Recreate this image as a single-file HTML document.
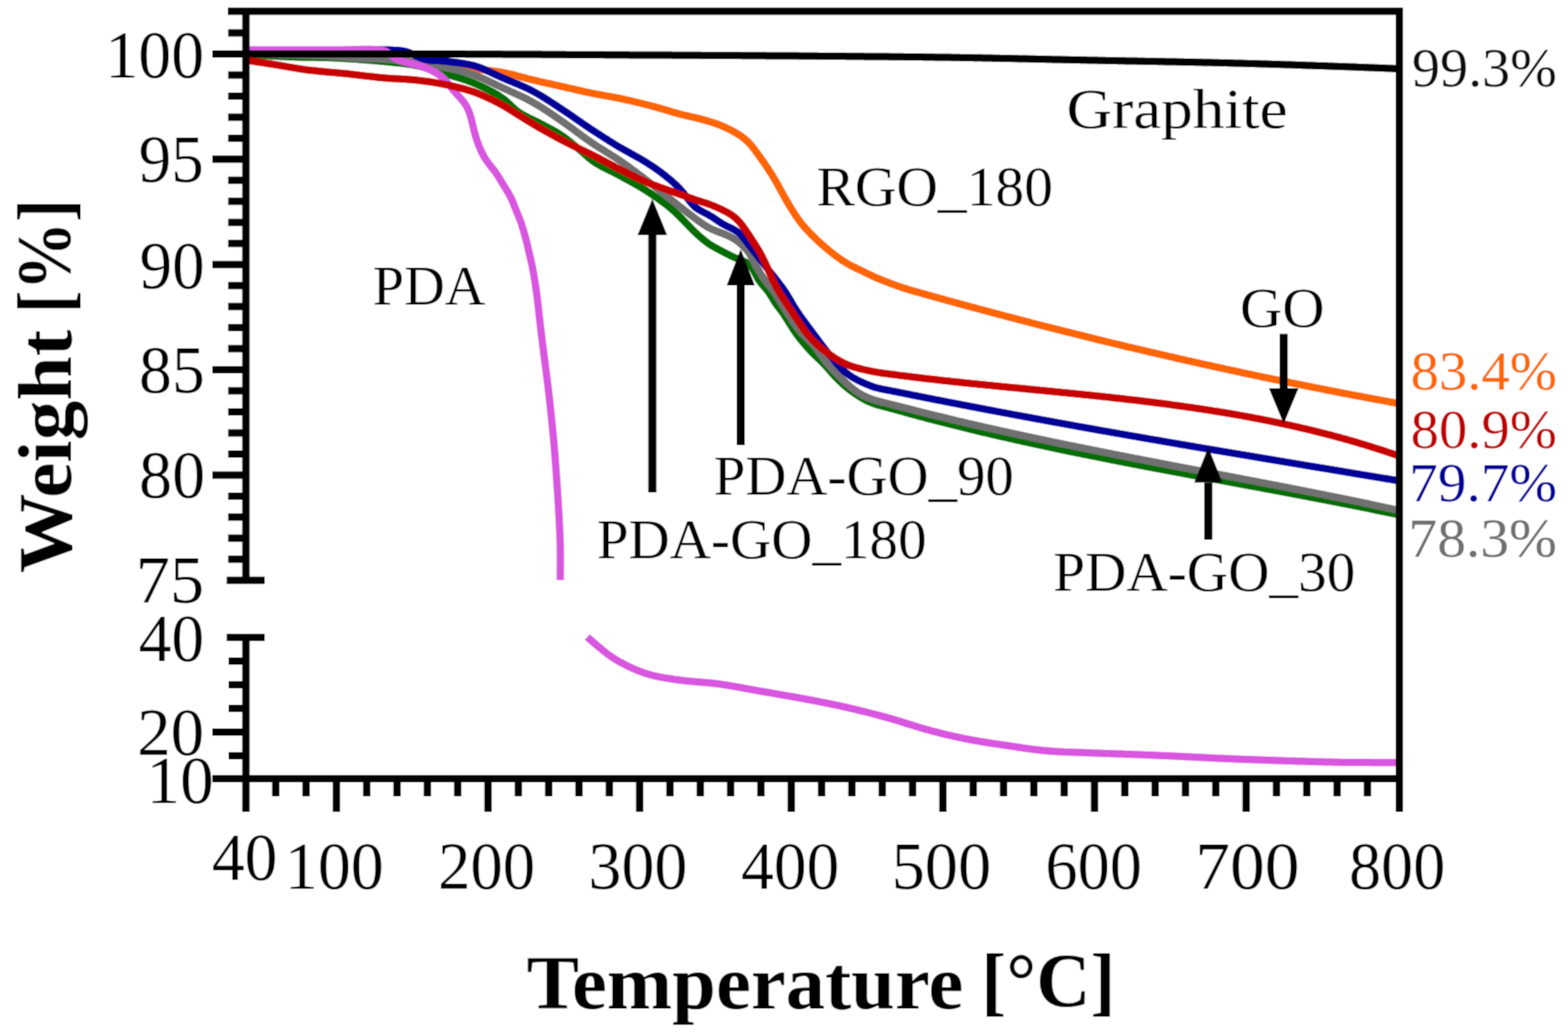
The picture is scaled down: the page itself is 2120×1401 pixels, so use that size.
<!DOCTYPE html>
<html><head><meta charset="utf-8"><title>TGA</title>
<style>html,body{margin:0;padding:0;background:#fff;}svg{display:block;}</style></head>
<body><svg width="2120" height="1401" viewBox="0 0 2120 1401">
<defs><filter id="soft" x="0" y="0" width="2120" height="1401" filterUnits="userSpaceOnUse" primitiveUnits="userSpaceOnUse"><feConvolveMatrix order="3" kernelMatrix="1 2 1 2 4 2 1 2 1" divisor="16" edgeMode="duplicate" preserveAlpha="false"/></filter></defs>
<rect width="2120" height="1401" fill="#fff"/>
<g filter="url(#soft)">
<rect width="2120" height="1401" fill="#fff"/>
<path d="M333.0,73.0 L335.0,73.1 L337.1,73.2 L339.1,73.2 L341.2,73.3 L343.2,73.4 L345.3,73.5 L347.3,73.5 L349.4,73.6 L351.5,73.7 L353.6,73.8 L355.6,73.9 L357.7,73.9 L359.8,74.0 L361.9,74.1 L364.0,74.2 L366.1,74.3 L368.2,74.3 L370.3,74.4 L372.4,74.5 L374.5,74.6 L376.6,74.7 L378.7,74.7 L380.8,74.8 L382.9,74.9 L385.0,75.0 L387.1,75.1 L389.2,75.1 L391.3,75.2 L393.4,75.3 L395.4,75.4 L397.5,75.5 L399.6,75.5 L401.6,75.6 L403.7,75.7 L405.7,75.8 L407.8,75.8 L409.8,75.9 L411.8,76.0 L413.9,76.1 L415.9,76.2 L417.9,76.2 L419.9,76.3 L421.8,76.4 L423.8,76.5 L425.8,76.5 L427.7,76.6 L429.6,76.7 L431.5,76.8 L433.5,76.8 L435.3,76.9 L437.2,77.0 L439.1,77.1 L440.9,77.1 L442.8,77.2 L444.6,77.3 L446.6,77.4 L448.5,77.4 L450.5,77.5 L452.5,77.6 L454.6,77.7 L456.7,77.8 L458.9,77.8 L461.1,77.9 L463.2,78.0 L465.4,78.1 L467.6,78.2 L469.7,78.3 L471.8,78.3 L473.9,78.4 L476.0,78.5 L478.1,78.6 L480.2,78.6 L482.2,78.7 L484.3,78.8 L486.3,78.9 L488.3,79.0 L490.3,79.0 L492.3,79.1 L494.2,79.2 L496.2,79.3 L498.1,79.4 L500.0,79.4 L501.9,79.5 L503.8,79.6 L505.6,79.7 L507.5,79.8 L509.3,79.9 L511.1,80.0 L512.9,80.1 L514.8,80.2 L516.6,80.3 L518.6,80.4 L520.5,80.5 L522.5,80.7 L524.5,80.8 L526.5,81.0 L528.5,81.1 L530.6,81.3 L532.6,81.4 L534.6,81.6 L536.5,81.7 L538.5,81.9 L540.4,82.1 L542.3,82.3 L544.2,82.4 L546.2,82.6 L548.1,82.8 L550.0,83.0 L552.0,83.2 L554.0,83.4 L555.9,83.6 L557.9,83.8 L559.9,84.0 L561.9,84.2 L563.9,84.4 L565.9,84.7 L567.9,84.9 L569.9,85.1 L572.0,85.4 L574.0,85.6 L576.1,85.9 L578.1,86.1 L580.2,86.4 L582.3,86.6 L584.4,86.9 L586.5,87.1 L588.5,87.4 L590.6,87.7 L592.6,87.9 L594.7,88.2 L596.7,88.4 L598.7,88.7 L600.6,88.9 L602.5,89.1 L604.5,89.4 L606.4,89.6 L608.4,89.8 L610.4,90.0 L612.3,90.2 L614.3,90.4 L616.3,90.6 L618.3,90.8 L620.3,91.0 L622.3,91.2 L624.2,91.4 L626.2,91.6 L628.1,91.8 L630.0,92.0 L632.0,92.2 L633.9,92.4 L635.9,92.6 L637.9,92.8 L639.8,93.0 L641.8,93.2 L643.8,93.4 L645.7,93.6 L647.7,93.8 L649.7,94.0 L651.6,94.2 L653.6,94.5 L655.6,94.7 L657.7,94.9 L659.7,95.1 L661.7,95.4 L663.8,95.6 L665.8,95.9 L667.8,96.1 L669.9,96.4 L671.9,96.7 L673.9,97.0 L676.0,97.4 L678.0,97.7 L680.0,98.1 L682.0,98.5 L684.0,98.9 L686.0,99.3 L688.0,99.8 L690.0,100.2 L692.0,100.7 L694.0,101.2 L696.0,101.7 L698.0,102.2 L700.0,102.8 L702.0,103.3 L704.0,103.8 L706.0,104.4 L708.0,104.9 L710.0,105.4 L712.0,106.0 L714.0,106.5 L716.0,107.0 L718.0,107.5 L720.0,108.0 L722.0,108.4 L724.0,108.9 L726.0,109.4 L728.0,109.9 L730.0,110.3 L732.0,110.8 L734.0,111.2 L736.0,111.7 L738.0,112.1 L740.0,112.6 L742.0,113.0 L744.0,113.4 L746.0,113.9 L748.0,114.3 L750.0,114.8 L752.0,115.2 L754.0,115.7 L756.0,116.1 L758.0,116.6 L760.0,117.0 L762.0,117.5 L764.0,117.9 L766.0,118.4 L768.0,118.8 L770.0,119.3 L772.0,119.7 L774.0,120.2 L776.0,120.7 L778.0,121.1 L780.0,121.6 L782.0,122.0 L784.0,122.5 L786.0,122.9 L788.0,123.4 L790.0,123.8 L792.0,124.3 L794.0,124.7 L796.0,125.1 L798.0,125.6 L800.0,126.0 L802.0,126.4 L804.0,126.8 L806.0,127.2 L808.0,127.5 L810.0,127.9 L812.0,128.3 L814.0,128.6 L816.0,129.0 L818.0,129.4 L820.0,129.7 L822.0,130.1 L824.0,130.4 L826.0,130.8 L828.0,131.2 L830.0,131.5 L832.0,131.9 L834.0,132.3 L836.0,132.7 L838.0,133.1 L840.0,133.5 L842.0,134.0 L844.0,134.4 L846.0,134.8 L848.0,135.3 L850.0,135.7 L852.0,136.2 L854.0,136.6 L856.0,137.1 L858.0,137.6 L860.0,138.0 L862.0,138.5 L864.0,139.0 L866.0,139.5 L868.0,140.0 L870.0,140.5 L872.0,141.0 L874.0,141.5 L876.0,142.0 L878.0,142.5 L880.0,143.0 L882.0,143.6 L884.1,144.1 L886.1,144.7 L888.1,145.3 L890.2,145.8 L892.2,146.4 L894.2,147.0 L896.3,147.6 L898.3,148.2 L900.3,148.8 L902.4,149.4 L904.4,150.0 L906.4,150.6 L908.4,151.2 L910.3,151.8 L912.3,152.3 L914.3,152.9 L916.2,153.4 L918.2,154.0 L920.2,154.5 L922.2,155.0 L924.2,155.5 L926.2,156.0 L928.2,156.5 L930.3,156.9 L932.3,157.4 L934.3,157.8 L936.3,158.3 L938.2,158.7 L940.2,159.2 L942.2,159.6 L944.1,160.1 L946.1,160.6 L948.0,161.1 L950.0,161.7 L952.0,162.2 L953.9,162.8 L955.9,163.3 L957.8,163.9 L959.8,164.5 L961.7,165.1 L963.7,165.7 L965.6,166.4 L967.5,167.0 L969.4,167.7 L971.4,168.4 L973.3,169.2 L975.2,170.0 L977.1,170.8 L979.0,171.6 L980.9,172.4 L982.8,173.3 L984.7,174.2 L986.6,175.2 L988.5,176.1 L990.3,177.1 L992.2,178.1 L994.1,179.2 L995.9,180.3 L997.7,181.4 L999.5,182.5 L1001.3,183.6 L1003.0,184.9 L1004.7,186.1 L1006.3,187.4 L1007.9,188.8 L1009.5,190.2 L1011.0,191.6 L1012.5,193.1 L1013.9,194.6 L1015.3,196.2 L1016.7,197.9 L1018.0,199.5 L1019.3,201.2 L1020.6,202.9 L1021.9,204.7 L1023.2,206.4 L1024.4,208.1 L1025.6,209.8 L1026.9,211.5 L1028.1,213.2 L1029.3,214.9 L1030.5,216.5 L1031.6,218.2 L1032.8,219.8 L1033.9,221.5 L1035.1,223.2 L1036.2,224.9 L1037.4,226.6 L1038.5,228.3 L1039.6,230.0 L1040.7,231.8 L1041.9,233.5 L1043.0,235.3 L1044.1,237.0 L1045.1,238.8 L1046.2,240.6 L1047.3,242.4 L1048.3,244.2 L1049.4,246.0 L1050.4,247.8 L1051.4,249.6 L1052.4,251.4 L1053.4,253.3 L1054.4,255.1 L1055.4,257.0 L1056.4,258.8 L1057.4,260.7 L1058.5,262.5 L1059.5,264.4 L1060.5,266.2 L1061.5,268.0 L1062.5,269.9 L1063.6,271.7 L1064.6,273.4 L1065.7,275.2 L1066.7,277.0 L1067.8,278.7 L1068.8,280.5 L1069.9,282.2 L1071.0,283.9 L1072.1,285.7 L1073.2,287.4 L1074.3,289.1 L1075.4,290.8 L1076.5,292.4 L1077.7,294.1 L1078.8,295.8 L1080.0,297.4 L1081.2,299.1 L1082.5,300.7 L1083.7,302.3 L1085.0,303.9 L1086.3,305.4 L1087.6,307.0 L1089.0,308.5 L1090.3,310.0 L1091.7,311.5 L1093.1,313.0 L1094.5,314.5 L1096.0,316.0 L1097.4,317.5 L1098.9,319.0 L1100.4,320.4 L1101.9,321.9 L1103.4,323.3 L1104.9,324.8 L1106.4,326.2 L1107.9,327.6 L1109.5,328.9 L1111.0,330.3 L1112.5,331.7 L1114.1,333.0 L1115.6,334.4 L1117.2,335.7 L1118.8,337.0 L1120.3,338.3 L1121.9,339.6 L1123.5,340.9 L1125.1,342.2 L1126.8,343.5 L1128.4,344.7 L1130.0,346.0 L1131.6,347.2 L1133.2,348.3 L1134.9,349.5 L1136.5,350.6 L1138.1,351.7 L1139.8,352.9 L1141.5,353.9 L1143.2,355.0 L1145.0,356.1 L1146.8,357.1 L1148.7,358.1 L1150.5,359.1 L1152.4,360.1 L1154.3,361.0 L1156.2,362.0 L1158.1,362.9 L1159.9,363.7 L1161.7,364.6 L1163.4,365.4 L1165.2,366.2 L1166.9,367.1 L1168.6,367.9 L1170.3,368.7 L1172.0,369.6 L1173.7,370.4 L1175.4,371.3 L1177.1,372.1 L1178.9,372.9 L1180.6,373.7 L1182.3,374.5 L1184.0,375.3 L1185.8,376.0 L1187.6,376.8 L1189.4,377.5 L1191.3,378.3 L1193.2,379.0 L1195.2,379.8 L1197.3,380.6 L1199.4,381.4 L1201.5,382.2 L1203.6,383.1 L1205.7,383.9 L1207.8,384.6 L1209.9,385.4 L1212.0,386.2 L1214.0,386.9 L1216.1,387.6 L1218.1,388.3 L1220.1,389.0 L1222.1,389.6 L1224.1,390.3 L1226.1,390.9 L1228.1,391.5 L1230.0,392.1 L1232.0,392.7 L1234.0,393.2 L1235.9,393.8 L1237.9,394.3 L1239.9,394.9 L1241.9,395.4 L1243.9,396.0 L1245.8,396.5 L1247.8,397.1 L1249.8,397.7 L1251.8,398.2 L1253.8,398.8 L1255.7,399.3 L1257.7,399.9 L1259.7,400.4 L1261.6,401.0 L1263.6,401.5 L1265.6,402.1 L1267.6,402.6 L1269.7,403.2 L1271.7,403.8 L1273.7,404.3 L1275.8,404.9 L1277.8,405.5 L1279.8,406.0 L1281.9,406.6 L1283.9,407.1 L1285.9,407.7 L1288.0,408.2 L1290.0,408.8 L1292.0,409.3 L1294.0,409.9 L1296.0,410.4 L1298.0,411.0 L1300.0,411.5 L1302.0,412.1 L1304.0,412.6 L1306.0,413.1 L1308.0,413.7 L1310.0,414.2 L1312.0,414.8 L1314.0,415.3 L1316.0,415.8 L1318.0,416.4 L1320.0,416.9 L1322.0,417.5 L1324.0,418.0 L1326.0,418.5 L1328.0,419.1 L1330.0,419.6 L1332.0,420.1 L1334.0,420.7 L1336.0,421.2 L1338.0,421.7 L1340.0,422.3 L1342.0,422.8 L1344.0,423.3 L1346.0,423.9 L1348.0,424.4 L1350.0,424.9 L1352.0,425.5 L1354.0,426.0 L1356.0,426.5 L1358.0,427.0 L1360.0,427.6 L1362.0,428.1 L1364.0,428.6 L1366.0,429.1 L1368.0,429.7 L1370.0,430.2 L1372.0,430.7 L1374.0,431.2 L1376.0,431.8 L1378.0,432.3 L1380.0,432.8 L1382.0,433.3 L1384.0,433.9 L1386.0,434.4 L1388.0,434.9 L1390.0,435.4 L1392.0,435.9 L1394.0,436.5 L1396.0,437.0 L1398.0,437.5 L1400.0,438.0 L1402.0,438.5 L1404.0,439.1 L1406.0,439.6 L1408.0,440.1 L1410.0,440.6 L1412.0,441.1 L1414.0,441.6 L1416.0,442.1 L1418.0,442.6 L1420.0,443.1 L1422.0,443.7 L1424.0,444.2 L1426.0,444.7 L1428.0,445.2 L1430.0,445.7 L1432.0,446.2 L1434.0,446.7 L1436.0,447.2 L1438.0,447.7 L1440.0,448.2 L1442.0,448.7 L1444.0,449.2 L1446.0,449.7 L1448.0,450.2 L1450.0,450.7 L1452.0,451.2 L1454.0,451.7 L1456.0,452.2 L1458.0,452.7 L1460.0,453.2 L1462.0,453.7 L1464.0,454.2 L1466.0,454.7 L1468.0,455.2 L1470.0,455.7 L1472.0,456.2 L1474.0,456.7 L1476.0,457.2 L1478.0,457.7 L1480.0,458.1 L1482.0,458.6 L1484.0,459.1 L1486.0,459.6 L1488.0,460.1 L1490.0,460.6 L1492.0,461.1 L1494.0,461.6 L1496.0,462.1 L1498.0,462.5 L1500.0,463.0 L1502.0,463.5 L1504.0,464.0 L1506.0,464.5 L1508.0,465.0 L1510.0,465.4 L1512.0,465.9 L1514.0,466.4 L1516.0,466.9 L1518.0,467.3 L1520.0,467.8 L1522.0,468.3 L1524.0,468.8 L1526.0,469.3 L1528.0,469.7 L1530.0,470.2 L1532.0,470.7 L1534.0,471.1 L1536.0,471.6 L1538.0,472.1 L1540.0,472.5 L1542.0,473.0 L1544.0,473.5 L1546.0,473.9 L1548.0,474.4 L1550.0,474.9 L1552.0,475.3 L1554.0,475.8 L1556.0,476.3 L1558.0,476.7 L1560.0,477.2 L1562.0,477.7 L1564.0,478.1 L1566.0,478.6 L1568.0,479.0 L1570.0,479.5 L1572.0,480.0 L1574.0,480.4 L1576.0,480.9 L1578.0,481.4 L1580.0,481.8 L1582.0,482.3 L1584.0,482.7 L1586.0,483.2 L1588.0,483.7 L1590.0,484.1 L1592.0,484.6 L1594.0,485.1 L1596.0,485.5 L1598.0,486.0 L1600.0,486.4 L1602.0,486.9 L1604.0,487.3 L1606.0,487.8 L1608.0,488.2 L1610.0,488.7 L1612.0,489.1 L1614.0,489.6 L1616.0,490.0 L1618.0,490.5 L1620.0,490.9 L1622.0,491.4 L1624.0,491.8 L1626.0,492.3 L1628.0,492.7 L1630.0,493.1 L1632.0,493.6 L1634.0,494.0 L1636.0,494.4 L1638.0,494.9 L1640.0,495.3 L1642.0,495.8 L1644.0,496.2 L1646.0,496.6 L1648.0,497.1 L1650.0,497.5 L1652.0,497.9 L1654.0,498.4 L1656.0,498.8 L1658.0,499.3 L1660.0,499.7 L1662.0,500.1 L1664.0,500.6 L1666.0,501.0 L1668.0,501.4 L1670.0,501.9 L1672.0,502.3 L1674.0,502.8 L1676.0,503.2 L1678.0,503.6 L1680.0,504.1 L1682.0,504.5 L1684.0,504.9 L1686.0,505.3 L1688.0,505.8 L1690.0,506.2 L1692.0,506.6 L1694.0,507.0 L1696.0,507.5 L1698.0,507.9 L1700.0,508.3 L1702.0,508.7 L1704.0,509.1 L1706.0,509.6 L1708.0,510.0 L1710.0,510.4 L1712.0,510.8 L1714.0,511.2 L1716.0,511.6 L1718.0,512.0 L1720.0,512.4 L1722.0,512.9 L1724.0,513.3 L1726.0,513.7 L1728.0,514.1 L1730.0,514.5 L1732.0,514.9 L1734.0,515.3 L1736.0,515.7 L1738.0,516.1 L1740.0,516.5 L1742.0,516.9 L1744.0,517.4 L1746.0,517.8 L1748.0,518.2 L1750.0,518.6 L1752.0,519.0 L1754.0,519.4 L1756.0,519.8 L1758.0,520.2 L1760.0,520.6 L1762.0,521.0 L1764.0,521.4 L1766.0,521.8 L1768.0,522.2 L1770.0,522.6 L1772.0,523.0 L1774.0,523.4 L1776.0,523.8 L1778.0,524.2 L1780.0,524.6 L1782.0,525.0 L1784.0,525.4 L1786.0,525.8 L1788.0,526.2 L1790.0,526.6 L1792.0,527.0 L1794.0,527.4 L1796.0,527.8 L1798.0,528.2 L1800.0,528.5 L1802.0,528.9 L1804.0,529.3 L1806.0,529.7 L1808.0,530.1 L1810.0,530.5 L1812.0,530.9 L1814.0,531.3 L1816.0,531.7 L1818.0,532.0 L1820.0,532.4 L1822.0,532.8 L1824.0,533.2 L1826.0,533.6 L1828.0,533.9 L1830.0,534.3 L1832.0,534.7 L1834.0,535.1 L1836.0,535.5 L1838.0,535.8 L1840.0,536.2 L1842.0,536.6 L1844.0,537.0 L1846.0,537.3 L1848.0,537.7 L1850.0,538.1 L1852.0,538.5 L1854.0,538.8 L1856.0,539.2 L1858.0,539.6 L1860.0,540.0 L1862.0,540.3 L1864.0,540.7 L1866.0,541.1 L1868.0,541.4 L1870.0,541.8 L1872.0,542.2 L1874.0,542.5 L1876.0,542.9 L1878.0,543.3 L1880.0,543.7 L1882.0,544.0 L1884.0,544.4 L1886.0,544.8 L1888.0,545.1 L1890.0,545.5" fill="none" stroke="#ff6600" stroke-width="10" stroke-linejoin="round" stroke-linecap="butt"/>
<path d="M333.0,74.0 L335.0,74.1 L337.1,74.2 L339.2,74.3 L341.2,74.4 L343.3,74.5 L345.4,74.6 L347.5,74.7 L349.6,74.8 L351.7,74.9 L353.8,75.0 L355.9,75.2 L358.0,75.3 L360.1,75.4 L362.2,75.5 L364.3,75.6 L366.4,75.7 L368.4,75.8 L370.5,75.9 L372.6,76.0 L374.6,76.1 L376.7,76.2 L378.7,76.3 L380.7,76.4 L382.7,76.5 L384.7,76.6 L386.7,76.7 L388.7,76.8 L390.6,76.8 L392.5,76.9 L394.4,77.0 L396.4,77.1 L398.4,77.1 L400.4,77.2 L402.5,77.3 L404.5,77.3 L406.6,77.4 L408.7,77.4 L410.9,77.5 L413.0,77.5 L415.1,77.5 L417.2,77.5 L419.2,77.6 L421.2,77.6 L423.3,77.6 L425.3,77.6 L427.3,77.7 L429.2,77.7 L431.2,77.7 L433.2,77.8 L435.1,77.8 L437.1,77.8 L439.1,77.9 L441.1,78.0 L443.1,78.0 L445.2,78.1 L447.2,78.2 L449.2,78.3 L451.3,78.3 L453.3,78.4 L455.3,78.5 L457.4,78.6 L459.4,78.7 L461.4,78.8 L463.4,79.0 L465.4,79.1 L467.5,79.2 L469.5,79.3 L471.6,79.5 L473.6,79.6 L475.7,79.7 L477.7,79.9 L479.8,80.0 L481.8,80.1 L483.8,80.3 L485.8,80.4 L487.8,80.6 L489.8,80.7 L491.8,80.9 L493.8,81.0 L495.9,81.2 L497.9,81.3 L500.0,81.5 L502.0,81.6 L504.1,81.8 L506.1,82.0 L508.2,82.2 L510.3,82.3 L512.3,82.5 L514.3,82.7 L516.3,82.9 L518.3,83.1 L520.3,83.2 L522.3,83.4 L524.3,83.6 L526.3,83.8 L528.3,84.0 L530.3,84.2 L532.4,84.4 L534.5,84.7 L536.5,84.9 L538.6,85.1 L540.7,85.3 L542.7,85.5 L544.8,85.8 L546.8,86.0 L548.8,86.2 L550.8,86.5 L552.9,86.8 L554.9,87.1 L556.9,87.4 L558.9,87.8 L560.9,88.2 L562.9,88.6 L564.9,89.0 L566.8,89.4 L568.8,89.9 L570.7,90.4 L572.7,90.9 L574.6,91.5 L576.5,92.0 L578.5,92.6 L580.4,93.2 L582.4,93.8 L584.3,94.4 L586.3,95.0 L588.2,95.6 L590.2,96.2 L592.1,96.8 L594.1,97.4 L596.1,98.1 L598.0,98.7 L600.0,99.3 L602.0,99.9 L604.0,100.5 L606.0,101.0 L608.0,101.6 L610.0,102.2 L612.0,102.8 L614.0,103.4 L616.0,103.9 L618.0,104.5 L620.0,105.1 L622.0,105.7 L624.0,106.4 L626.0,107.0 L628.0,107.7 L630.0,108.3 L632.0,109.0 L634.0,109.8 L636.0,110.5 L638.0,111.3 L639.9,112.0 L641.8,112.8 L643.8,113.7 L645.7,114.5 L647.6,115.4 L649.5,116.2 L651.5,117.1 L653.4,118.1 L655.3,119.0 L657.2,119.9 L659.1,120.9 L661.0,121.9 L662.9,122.9 L664.8,123.9 L666.6,124.9 L668.4,125.9 L670.2,126.9 L671.9,127.9 L673.6,128.9 L675.2,130.0 L676.9,131.1 L678.6,132.2 L680.2,133.4 L681.8,134.6 L683.3,135.9 L684.9,137.2 L686.4,138.6 L687.9,140.0 L689.4,141.4 L690.8,142.8 L692.3,144.2 L693.8,145.6 L695.3,146.9 L696.8,148.2 L698.3,149.4 L699.9,150.6 L701.6,151.8 L703.2,152.9 L704.9,154.0 L706.7,155.0 L708.4,155.9 L710.2,156.9 L712.0,157.8 L713.9,158.8 L715.7,159.7 L717.6,160.6 L719.5,161.5 L721.3,162.4 L723.2,163.3 L725.0,164.2 L726.9,165.1 L728.7,166.0 L730.5,167.0 L732.4,167.9 L734.2,168.9 L736.1,169.8 L737.9,170.8 L739.8,171.8 L741.7,172.8 L743.6,173.8 L745.4,174.9 L747.3,175.9 L749.1,176.9 L750.9,178.0 L752.8,179.0 L754.6,180.1 L756.3,181.2 L758.1,182.4 L759.9,183.6 L761.6,184.8 L763.3,186.0 L765.0,187.3 L766.7,188.5 L768.4,189.9 L770.1,191.2 L771.8,192.5 L773.4,193.9 L775.0,195.3 L776.7,196.6 L778.3,198.0 L779.9,199.3 L781.4,200.6 L783.0,202.0 L784.5,203.3 L786.1,204.6 L787.6,206.0 L789.1,207.3 L790.6,208.6 L792.1,209.9 L793.6,211.2 L795.1,212.6 L796.6,213.9 L798.1,215.1 L799.7,216.3 L801.2,217.5 L802.8,218.6 L804.4,219.7 L806.1,220.8 L807.7,221.8 L809.4,222.8 L811.1,223.8 L812.8,224.7 L814.6,225.6 L816.4,226.6 L818.2,227.5 L820.1,228.4 L822.0,229.4 L823.8,230.3 L825.7,231.2 L827.6,232.2 L829.5,233.1 L831.4,234.1 L833.2,235.0 L835.1,236.0 L836.9,237.0 L838.7,237.9 L840.5,238.9 L842.3,239.9 L844.0,240.8 L845.8,241.8 L847.6,242.7 L849.3,243.7 L851.1,244.7 L852.9,245.7 L854.7,246.6 L856.5,247.6 L858.2,248.6 L860.0,249.6 L861.8,250.7 L863.6,251.7 L865.3,252.7 L867.1,253.8 L868.8,254.8 L870.5,255.9 L872.3,256.9 L874.0,258.0 L875.7,259.1 L877.4,260.2 L879.1,261.3 L880.7,262.4 L882.4,263.6 L884.1,264.7 L885.8,265.8 L887.4,267.0 L889.1,268.1 L890.7,269.3 L892.3,270.5 L894.0,271.7 L895.6,272.9 L897.2,274.1 L898.9,275.3 L900.5,276.6 L902.1,277.8 L903.7,279.1 L905.3,280.4 L906.8,281.7 L908.4,283.0 L909.9,284.4 L911.5,285.7 L913.0,287.1 L914.5,288.5 L916.0,290.0 L917.5,291.4 L919.0,292.9 L920.5,294.4 L922.0,295.9 L923.5,297.4 L925.0,299.0 L926.4,300.5 L927.9,302.0 L929.3,303.5 L930.8,305.0 L932.2,306.5 L933.6,307.9 L935.0,309.3 L936.3,310.7 L937.6,312.0 L939.0,313.3 L940.4,314.7 L941.8,316.0 L943.3,317.4 L944.7,318.7 L946.2,320.0 L947.8,321.3 L949.3,322.7 L950.9,324.0 L952.4,325.2 L953.9,326.4 L955.5,327.6 L957.1,328.8 L958.7,329.9 L960.4,331.0 L962.1,332.1 L963.9,333.1 L965.7,334.1 L967.5,335.1 L969.4,336.1 L971.3,337.1 L973.1,338.1 L975.0,339.1 L976.9,340.1 L978.7,341.1 L980.6,342.1 L982.5,343.1 L984.4,344.0 L986.2,345.0 L988.1,345.9 L990.0,346.8 L991.9,347.7 L993.8,348.5 L995.7,349.3 L997.6,350.0 L999.5,350.8 L1001.4,351.6 L1003.4,352.4 L1005.3,353.2 L1007.2,354.2 L1009.0,355.2 L1010.7,356.3 L1012.3,357.5 L1013.9,358.8 L1015.3,360.3 L1016.6,361.9 L1017.8,363.6 L1018.8,365.4 L1019.8,367.2 L1020.8,369.2 L1021.8,371.1 L1022.8,373.1 L1023.8,375.0 L1024.9,376.9 L1026.1,378.8 L1027.3,380.5 L1028.6,382.2 L1029.9,383.9 L1031.3,385.5 L1032.6,387.1 L1034.0,388.7 L1035.4,390.3 L1036.7,392.0 L1038.0,393.6 L1039.3,395.4 L1040.5,397.1 L1041.6,398.9 L1042.8,400.7 L1043.9,402.6 L1045.0,404.4 L1046.1,406.2 L1047.2,408.0 L1048.3,409.7 L1049.5,411.3 L1050.7,413.0 L1051.9,414.6 L1053.1,416.1 L1054.3,417.7 L1055.4,419.2 L1056.6,420.7 L1057.7,422.3 L1058.9,423.9 L1060.0,425.5 L1061.1,427.2 L1062.1,428.8 L1063.2,430.6 L1064.3,432.3 L1065.5,434.1 L1066.6,436.0 L1067.7,437.8 L1068.9,439.7 L1070.0,441.5 L1071.2,443.3 L1072.3,445.0 L1073.5,446.7 L1074.6,448.5 L1075.8,450.2 L1077.0,451.9 L1078.3,453.6 L1079.6,455.3 L1080.8,456.9 L1082.1,458.6 L1083.5,460.2 L1084.8,461.8 L1086.1,463.4 L1087.5,465.0 L1088.8,466.6 L1090.2,468.2 L1091.5,469.7 L1092.9,471.3 L1094.3,472.8 L1095.7,474.4 L1097.1,475.9 L1098.6,477.4 L1100.0,478.8 L1101.5,480.2 L1102.9,481.6 L1104.4,483.0 L1105.9,484.4 L1107.4,485.8 L1108.8,487.1 L1110.3,488.5 L1111.7,489.9 L1113.1,491.4 L1114.5,492.8 L1115.9,494.3 L1117.2,495.8 L1118.6,497.3 L1119.9,498.8 L1121.2,500.4 L1122.6,501.9 L1123.9,503.4 L1125.3,505.0 L1126.7,506.5 L1128.1,508.0 L1129.5,509.5 L1130.9,511.0 L1132.3,512.4 L1133.7,513.9 L1135.2,515.3 L1136.6,516.7 L1138.1,518.1 L1139.6,519.5 L1141.1,520.9 L1142.7,522.2 L1144.3,523.6 L1145.9,524.9 L1147.6,526.2 L1149.3,527.5 L1151.0,528.8 L1152.8,530.1 L1154.6,531.3 L1156.4,532.6 L1158.1,533.7 L1159.9,534.9 L1161.6,536.0 L1163.3,537.1 L1165.1,538.1 L1166.8,539.2 L1168.6,540.2 L1170.4,541.1 L1172.1,542.0 L1173.9,542.9 L1175.8,543.7 L1177.6,544.4 L1179.5,545.2 L1181.4,545.8 L1183.3,546.5 L1185.2,547.1 L1187.1,547.6 L1189.1,548.2 L1191.1,548.8 L1193.2,549.3 L1195.3,549.9 L1197.4,550.4 L1199.5,551.0 L1201.6,551.5 L1203.7,552.1 L1205.7,552.6 L1207.8,553.2 L1209.8,553.7 L1211.8,554.3 L1213.8,554.8 L1215.8,555.4 L1217.7,555.9 L1219.7,556.5 L1221.7,557.0 L1223.7,557.6 L1225.7,558.1 L1227.7,558.7 L1229.8,559.3 L1231.8,559.8 L1233.8,560.4 L1235.8,560.9 L1237.9,561.5 L1239.9,562.0 L1241.9,562.6 L1244.0,563.1 L1246.0,563.7 L1248.0,564.2 L1250.0,564.7 L1252.0,565.3 L1254.0,565.8 L1256.0,566.3 L1258.0,566.8 L1260.0,567.3 L1262.0,567.9 L1264.0,568.4 L1266.0,568.9 L1268.0,569.4 L1270.0,569.9 L1272.0,570.4 L1274.0,571.0 L1276.0,571.5 L1278.0,572.0 L1280.0,572.5 L1282.0,573.0 L1284.0,573.5 L1286.0,574.0 L1288.0,574.5 L1290.0,575.0 L1292.0,575.5 L1294.0,576.0 L1296.0,576.5 L1298.0,577.0 L1300.0,577.5 L1302.0,578.0 L1304.0,578.5 L1306.0,579.0 L1308.0,579.5 L1310.0,580.0 L1312.0,580.4 L1314.0,580.9 L1316.0,581.4 L1318.0,581.9 L1320.0,582.4 L1322.0,582.9 L1324.0,583.3 L1326.0,583.8 L1328.0,584.3 L1330.0,584.8 L1332.0,585.2 L1334.0,585.7 L1336.0,586.2 L1338.0,586.6 L1340.0,587.1 L1342.0,587.6 L1344.0,588.0 L1346.0,588.5 L1348.0,589.0 L1350.0,589.4 L1352.0,589.9 L1354.0,590.3 L1356.0,590.8 L1358.0,591.2 L1360.0,591.7 L1362.0,592.1 L1364.0,592.6 L1366.0,593.0 L1368.0,593.5 L1370.0,593.9 L1372.0,594.4 L1374.0,594.8 L1376.0,595.3 L1378.0,595.7 L1380.0,596.2 L1382.0,596.6 L1384.0,597.1 L1386.0,597.5 L1388.0,597.9 L1390.0,598.4 L1392.0,598.8 L1394.0,599.3 L1396.0,599.7 L1398.0,600.1 L1400.0,600.6 L1402.0,601.0 L1404.0,601.4 L1406.0,601.9 L1408.0,602.3 L1410.0,602.7 L1412.0,603.2 L1414.0,603.6 L1416.0,604.0 L1418.0,604.5 L1420.0,604.9 L1422.0,605.3 L1424.0,605.7 L1426.0,606.2 L1428.0,606.6 L1430.0,607.0 L1432.0,607.4 L1434.0,607.9 L1436.0,608.3 L1438.0,608.7 L1440.0,609.1 L1442.0,609.5 L1444.0,610.0 L1446.0,610.4 L1448.0,610.8 L1450.0,611.2 L1452.0,611.6 L1454.0,612.0 L1456.0,612.4 L1458.0,612.8 L1460.0,613.2 L1462.0,613.6 L1464.0,614.0 L1466.0,614.4 L1468.0,614.8 L1470.0,615.2 L1472.0,615.6 L1474.0,616.0 L1476.0,616.4 L1478.0,616.8 L1480.0,617.2 L1482.0,617.6 L1484.0,618.0 L1486.0,618.4 L1488.0,618.8 L1490.0,619.2 L1492.0,619.6 L1494.0,620.0 L1496.0,620.4 L1498.0,620.8 L1500.0,621.2 L1502.0,621.6 L1504.0,622.0 L1506.0,622.4 L1508.0,622.8 L1510.0,623.2 L1512.0,623.6 L1514.0,624.0 L1516.0,624.4 L1518.0,624.7 L1520.0,625.1 L1522.0,625.5 L1524.0,625.9 L1526.0,626.3 L1528.0,626.7 L1530.0,627.1 L1532.0,627.5 L1534.0,627.9 L1536.0,628.2 L1538.0,628.6 L1540.0,629.0 L1542.0,629.4 L1544.0,629.8 L1546.0,630.1 L1548.0,630.5 L1550.0,630.9 L1552.0,631.3 L1554.0,631.7 L1556.0,632.0 L1558.0,632.4 L1560.0,632.8 L1562.0,633.2 L1564.0,633.5 L1566.0,633.9 L1568.0,634.3 L1570.0,634.7 L1572.0,635.1 L1574.0,635.4 L1576.0,635.8 L1578.0,636.2 L1580.0,636.6 L1582.0,636.9 L1584.0,637.3 L1586.0,637.7 L1588.0,638.1 L1590.0,638.4 L1592.0,638.8 L1594.0,639.2 L1596.0,639.6 L1598.0,639.9 L1600.0,640.3 L1602.0,640.7 L1604.0,641.1 L1606.0,641.4 L1608.0,641.8 L1610.0,642.2 L1612.0,642.5 L1614.0,642.9 L1616.0,643.3 L1618.0,643.7 L1620.0,644.0 L1622.0,644.4 L1624.0,644.8 L1626.0,645.1 L1628.0,645.5 L1630.0,645.9 L1632.0,646.2 L1634.0,646.6 L1636.0,647.0 L1638.0,647.4 L1640.0,647.7 L1642.0,648.1 L1644.0,648.5 L1646.0,648.8 L1648.0,649.2 L1650.0,649.6 L1652.0,649.9 L1654.0,650.3 L1656.0,650.7 L1658.0,651.1 L1660.0,651.4 L1662.0,651.8 L1664.0,652.2 L1666.0,652.5 L1668.0,652.9 L1670.0,653.3 L1672.0,653.6 L1674.0,654.0 L1676.0,654.4 L1678.0,654.8 L1680.0,655.1 L1682.0,655.5 L1684.0,655.9 L1686.0,656.2 L1688.0,656.6 L1690.0,657.0 L1692.0,657.3 L1694.0,657.7 L1696.0,658.1 L1698.0,658.4 L1700.0,658.8 L1702.0,659.2 L1704.0,659.6 L1706.0,659.9 L1708.0,660.3 L1710.0,660.7 L1712.0,661.0 L1714.0,661.4 L1716.0,661.8 L1718.0,662.1 L1720.0,662.5 L1722.0,662.9 L1724.0,663.3 L1726.0,663.6 L1728.0,664.0 L1730.0,664.4 L1732.0,664.8 L1734.0,665.1 L1736.0,665.5 L1738.0,665.9 L1740.0,666.3 L1742.0,666.6 L1744.0,667.0 L1746.0,667.4 L1748.0,667.8 L1750.0,668.2 L1752.0,668.5 L1754.0,668.9 L1756.0,669.3 L1758.0,669.7 L1760.0,670.1 L1762.0,670.5 L1764.0,670.8 L1766.0,671.2 L1768.0,671.6 L1770.0,672.0 L1772.0,672.4 L1774.0,672.7 L1776.0,673.1 L1778.0,673.5 L1780.0,673.9 L1782.0,674.3 L1784.0,674.7 L1786.0,675.0 L1788.0,675.4 L1790.0,675.8 L1792.0,676.2 L1794.0,676.6 L1796.0,677.0 L1798.0,677.4 L1800.0,677.7 L1802.0,678.1 L1804.0,678.5 L1806.0,678.9 L1808.0,679.3 L1810.0,679.7 L1812.0,680.1 L1814.0,680.5 L1816.0,680.9 L1818.0,681.3 L1820.0,681.6 L1822.0,682.0 L1824.0,682.4 L1826.0,682.8 L1828.0,683.2 L1830.0,683.6 L1832.0,684.0 L1834.0,684.4 L1836.0,684.8 L1838.0,685.2 L1840.0,685.6 L1842.0,686.0 L1844.0,686.4 L1846.1,686.8 L1848.2,687.2 L1850.3,687.7 L1852.5,688.1 L1854.7,688.6 L1857.0,689.0 L1859.3,689.5 L1861.6,690.0 L1864.0,690.5 L1866.4,691.0 L1868.7,691.5 L1871.0,691.9 L1873.2,692.4 L1875.3,692.9 L1877.4,693.3 L1879.3,693.7 L1881.0,694.1 L1882.7,694.4 L1884.2,694.7 L1885.5,695.0 L1886.9,695.3 L1888.1,695.5 L1889.1,695.7 L1890.0,695.9" fill="none" stroke="#006e00" stroke-width="10" stroke-linejoin="round" stroke-linecap="butt"/>
<path d="M333.0,73.0 L335.0,73.0 L337.1,73.1 L339.2,73.1 L341.3,73.2 L343.3,73.2 L345.4,73.3 L347.6,73.3 L349.7,73.3 L351.8,73.4 L354.0,73.4 L356.1,73.5 L358.3,73.5 L360.4,73.5 L362.6,73.6 L364.8,73.6 L367.0,73.7 L369.1,73.7 L371.3,73.7 L373.5,73.8 L375.7,73.8 L377.8,73.9 L380.0,73.9 L382.2,73.9 L384.3,74.0 L386.5,74.0 L388.6,74.0 L390.8,74.1 L392.9,74.1 L395.0,74.2 L397.1,74.2 L399.2,74.3 L401.3,74.3 L403.3,74.3 L405.4,74.4 L407.4,74.4 L409.4,74.5 L411.4,74.5 L413.4,74.6 L415.4,74.6 L417.3,74.7 L419.2,74.7 L421.1,74.8 L422.9,74.8 L424.8,74.9 L426.6,75.0 L428.3,75.0 L430.1,75.1 L431.8,75.2 L433.5,75.2 L435.2,75.3 L437.1,75.4 L438.9,75.5 L440.9,75.6 L442.8,75.7 L444.8,75.8 L446.9,75.9 L449.0,76.1 L451.2,76.2 L453.2,76.4 L455.3,76.5 L457.3,76.7 L459.2,76.9 L461.1,77.0 L463.0,77.2 L464.9,77.3 L466.8,77.5 L468.6,77.7 L470.5,77.8 L472.4,78.0 L474.3,78.1 L476.2,78.2 L478.1,78.4 L480.1,78.5 L482.0,78.6 L484.0,78.7 L486.0,78.8 L488.0,78.8 L490.0,78.9 L492.0,79.0 L494.0,79.0 L496.0,79.1 L498.0,79.1 L500.0,79.2 L502.0,79.2 L504.0,79.3 L506.0,79.4 L508.0,79.4 L510.0,79.5 L512.0,79.6 L514.0,79.7 L516.0,79.8 L518.0,79.9 L520.0,80.0 L522.0,80.2 L524.0,80.3 L526.0,80.5 L528.0,80.6 L530.0,80.8 L532.0,81.0 L534.0,81.1 L536.0,81.3 L538.0,81.5 L540.0,81.7 L542.0,81.9 L544.0,82.1 L546.0,82.3 L548.0,82.5 L550.0,82.8 L552.0,83.0 L554.0,83.3 L556.0,83.5 L558.0,83.8 L560.0,84.0 L562.0,84.3 L564.0,84.6 L566.0,84.8 L568.0,85.1 L570.0,85.4 L572.0,85.7 L574.0,86.0 L576.0,86.3 L578.0,86.7 L580.0,87.0 L582.0,87.3 L584.0,87.7 L586.0,88.0 L588.0,88.4 L590.0,88.7 L592.0,89.1 L594.0,89.5 L596.0,89.9 L598.0,90.3 L600.0,90.7 L602.0,91.1 L604.0,91.6 L606.0,92.0 L608.0,92.4 L610.1,92.9 L612.1,93.3 L614.1,93.8 L616.1,94.3 L618.1,94.7 L620.1,95.2 L622.1,95.7 L624.1,96.3 L626.1,96.8 L628.1,97.3 L630.1,97.9 L632.1,98.5 L634.0,99.1 L636.0,99.7 L638.0,100.4 L639.9,101.1 L641.9,101.8 L643.8,102.5 L645.8,103.3 L647.7,104.0 L649.6,104.8 L651.5,105.6 L653.4,106.5 L655.3,107.3 L657.2,108.2 L659.1,109.1 L661.0,110.0 L662.9,110.8 L664.8,111.8 L666.7,112.7 L668.6,113.6 L670.5,114.5 L672.4,115.4 L674.3,116.3 L676.2,117.2 L678.1,118.1 L679.9,118.9 L681.8,119.8 L683.6,120.6 L685.5,121.5 L687.3,122.3 L689.1,123.1 L691.0,124.0 L692.8,124.8 L694.6,125.6 L696.4,126.4 L698.3,127.3 L700.1,128.1 L701.9,128.9 L703.7,129.8 L705.6,130.7 L707.4,131.5 L709.2,132.4 L711.0,133.3 L712.8,134.2 L714.6,135.2 L716.4,136.1 L718.2,137.1 L720.0,138.1 L721.7,139.1 L723.5,140.1 L725.3,141.1 L727.0,142.2 L728.8,143.2 L730.6,144.3 L732.3,145.4 L734.0,146.5 L735.8,147.6 L737.5,148.8 L739.3,149.9 L741.0,151.0 L742.7,152.2 L744.5,153.4 L746.2,154.5 L747.9,155.7 L749.6,156.9 L751.4,158.1 L753.1,159.3 L754.8,160.4 L756.5,161.6 L758.2,162.8 L759.9,164.0 L761.6,165.2 L763.3,166.4 L765.0,167.6 L766.7,168.8 L768.4,170.0 L770.0,171.2 L771.7,172.4 L773.4,173.6 L775.0,174.8 L776.7,176.1 L778.3,177.3 L780.0,178.5 L781.7,179.8 L783.3,181.0 L785.0,182.2 L786.6,183.4 L788.3,184.7 L790.0,185.9 L791.6,187.1 L793.3,188.3 L795.0,189.5 L796.7,190.6 L798.4,191.8 L800.1,193.0 L801.8,194.1 L803.5,195.3 L805.2,196.4 L807.0,197.6 L808.7,198.7 L810.5,199.8 L812.3,200.9 L814.0,202.0 L815.8,203.1 L817.6,204.2 L819.3,205.3 L821.1,206.4 L822.8,207.5 L824.6,208.6 L826.3,209.7 L828.1,210.8 L829.8,211.8 L831.5,212.9 L833.2,214.0 L834.9,215.2 L836.6,216.3 L838.3,217.4 L840.0,218.6 L841.7,219.7 L843.4,220.9 L845.0,222.0 L846.7,223.2 L848.3,224.4 L850.0,225.6 L851.6,226.8 L853.2,228.0 L854.8,229.2 L856.4,230.3 L858.0,231.5 L859.6,232.7 L861.2,233.9 L862.8,235.2 L864.4,236.4 L866.0,237.6 L867.6,238.8 L869.2,240.0 L870.8,241.3 L872.4,242.5 L874.0,243.7 L875.7,245.0 L877.3,246.3 L878.9,247.5 L880.6,248.8 L882.2,250.1 L883.9,251.4 L885.5,252.7 L887.2,254.0 L888.8,255.3 L890.4,256.6 L892.1,257.9 L893.7,259.3 L895.4,260.6 L897.0,261.9 L898.6,263.2 L900.3,264.5 L901.9,265.8 L903.6,267.1 L905.2,268.4 L906.9,269.7 L908.5,271.0 L910.2,272.3 L911.9,273.6 L913.5,275.0 L915.2,276.3 L916.9,277.6 L918.6,279.0 L920.3,280.3 L922.1,281.7 L923.8,283.0 L925.5,284.4 L927.1,285.7 L928.8,287.0 L930.5,288.3 L932.1,289.5 L933.7,290.8 L935.3,292.0 L936.8,293.2 L938.4,294.3 L940.0,295.5 L941.6,296.7 L943.2,297.9 L944.9,299.1 L946.5,300.3 L948.2,301.4 L949.9,302.6 L951.6,303.8 L953.3,304.9 L955.0,305.9 L956.7,307.0 L958.4,307.9 L960.2,308.8 L962.0,309.7 L963.8,310.5 L965.6,311.3 L967.5,312.0 L969.4,312.8 L971.3,313.5 L973.2,314.2 L975.2,315.0 L977.1,315.7 L979.1,316.5 L981.1,317.3 L983.1,318.2 L985.1,319.1 L987.1,320.1 L989.0,321.1 L990.9,322.1 L992.8,323.2 L994.6,324.4 L996.4,325.6 L998.1,326.8 L999.7,328.2 L1001.3,329.5 L1002.9,330.9 L1004.4,332.3 L1005.9,333.8 L1007.3,335.3 L1008.7,336.8 L1010.0,338.4 L1011.3,340.0 L1012.5,341.7 L1013.6,343.4 L1014.7,345.2 L1015.7,347.0 L1016.7,348.9 L1017.6,350.8 L1018.6,352.7 L1019.5,354.5 L1020.4,356.4 L1021.4,358.3 L1022.4,360.2 L1023.4,362.0 L1024.5,363.9 L1025.6,365.7 L1026.7,367.6 L1027.9,369.4 L1029.0,371.2 L1030.2,373.0 L1031.4,374.8 L1032.6,376.6 L1033.8,378.3 L1035.1,380.0 L1036.3,381.7 L1037.6,383.3 L1038.9,385.0 L1040.2,386.6 L1041.6,388.3 L1042.9,389.9 L1044.2,391.5 L1045.4,393.1 L1046.6,394.8 L1047.8,396.4 L1049.0,398.1 L1050.1,399.8 L1051.1,401.5 L1052.2,403.1 L1053.2,404.9 L1054.3,406.6 L1055.3,408.4 L1056.4,410.2 L1057.5,412.0 L1058.5,413.8 L1059.6,415.6 L1060.7,417.3 L1061.8,419.1 L1063.0,420.9 L1064.1,422.6 L1065.2,424.4 L1066.4,426.2 L1067.5,427.9 L1068.7,429.7 L1069.9,431.5 L1071.1,433.2 L1072.2,435.0 L1073.4,436.8 L1074.6,438.5 L1075.8,440.2 L1077.0,441.9 L1078.2,443.5 L1079.4,445.1 L1080.6,446.7 L1081.9,448.2 L1083.2,449.8 L1084.6,451.3 L1086.0,452.7 L1087.5,454.2 L1089.0,455.6 L1090.6,457.1 L1092.1,458.6 L1093.7,460.1 L1095.2,461.5 L1096.7,463.0 L1098.1,464.6 L1099.5,466.2 L1100.8,467.9 L1102.2,469.5 L1103.4,471.2 L1104.7,472.9 L1106.0,474.7 L1107.2,476.4 L1108.5,478.1 L1109.7,479.8 L1111.0,481.6 L1112.2,483.3 L1113.5,485.0 L1114.7,486.7 L1116.0,488.4 L1117.3,490.1 L1118.6,491.8 L1120.0,493.5 L1121.5,495.2 L1123.0,496.8 L1124.4,498.4 L1125.9,499.9 L1127.4,501.5 L1128.9,503.0 L1130.4,504.5 L1131.8,506.0 L1133.3,507.4 L1134.7,508.9 L1136.1,510.3 L1137.6,511.8 L1139.1,513.3 L1140.6,514.7 L1142.1,516.2 L1143.6,517.6 L1145.2,519.1 L1146.8,520.5 L1148.4,521.9 L1150.0,523.3 L1151.6,524.6 L1153.3,525.9 L1155.0,527.2 L1156.7,528.5 L1158.4,529.7 L1160.2,530.9 L1162.0,532.0 L1163.8,533.1 L1165.7,534.2 L1167.7,535.2 L1169.7,536.1 L1171.6,537.0 L1173.6,537.9 L1175.5,538.6 L1177.5,539.4 L1179.4,540.0 L1181.3,540.7 L1183.3,541.3 L1185.2,541.8 L1187.1,542.4 L1189.1,542.9 L1191.1,543.4 L1193.2,543.9 L1195.3,544.5 L1197.4,545.0 L1199.5,545.5 L1201.6,546.0 L1203.7,546.5 L1205.7,547.0 L1207.8,547.6 L1209.8,548.1 L1211.8,548.6 L1213.8,549.1 L1215.8,549.6 L1217.7,550.1 L1219.7,550.6 L1221.7,551.1 L1223.7,551.7 L1225.7,552.2 L1227.7,552.7 L1229.8,553.2 L1231.8,553.7 L1233.8,554.2 L1235.9,554.7 L1237.9,555.3 L1239.9,555.8 L1241.9,556.3 L1244.0,556.8 L1246.0,557.3 L1248.0,557.8 L1250.0,558.3 L1252.0,558.8 L1254.0,559.3 L1256.0,559.8 L1258.0,560.3 L1260.0,560.8 L1262.0,561.3 L1264.0,561.8 L1266.0,562.3 L1268.0,562.8 L1270.0,563.2 L1272.0,563.7 L1274.0,564.2 L1276.0,564.7 L1278.0,565.2 L1280.0,565.7 L1282.0,566.2 L1284.0,566.6 L1286.0,567.1 L1288.0,567.6 L1290.0,568.1 L1292.0,568.5 L1294.0,569.0 L1296.0,569.5 L1298.0,570.0 L1300.0,570.4 L1302.0,570.9 L1304.0,571.4 L1306.0,571.8 L1308.0,572.3 L1310.0,572.8 L1312.0,573.2 L1314.0,573.7 L1316.0,574.2 L1318.0,574.6 L1320.0,575.1 L1322.0,575.5 L1324.0,576.0 L1326.0,576.4 L1328.0,576.9 L1330.0,577.4 L1332.0,577.8 L1334.0,578.3 L1336.0,578.7 L1338.0,579.2 L1340.0,579.6 L1342.0,580.1 L1344.0,580.5 L1346.0,580.9 L1348.0,581.4 L1350.0,581.8 L1352.0,582.3 L1354.0,582.7 L1356.0,583.2 L1358.0,583.6 L1360.0,584.0 L1362.0,584.5 L1364.0,584.9 L1366.0,585.4 L1368.0,585.8 L1370.0,586.2 L1372.0,586.7 L1374.0,587.1 L1376.0,587.5 L1378.0,588.0 L1380.0,588.4 L1382.0,588.8 L1384.0,589.3 L1386.0,589.7 L1388.0,590.1 L1390.0,590.6 L1392.0,591.0 L1394.0,591.4 L1396.0,591.8 L1398.0,592.3 L1400.0,592.7 L1402.0,593.1 L1404.0,593.6 L1406.0,594.0 L1408.0,594.4 L1410.0,594.8 L1412.0,595.2 L1414.0,595.7 L1416.0,596.1 L1418.0,596.5 L1420.0,596.9 L1422.0,597.3 L1424.0,597.8 L1426.0,598.2 L1428.0,598.6 L1430.0,599.0 L1432.0,599.4 L1434.0,599.8 L1436.0,600.2 L1438.0,600.7 L1440.0,601.1 L1442.0,601.5 L1444.0,601.9 L1446.0,602.3 L1448.0,602.7 L1450.0,603.1 L1452.0,603.5 L1454.0,603.9 L1456.0,604.3 L1458.0,604.7 L1460.0,605.1 L1462.0,605.5 L1464.0,605.9 L1466.0,606.3 L1468.0,606.7 L1470.0,607.1 L1472.0,607.5 L1474.0,607.9 L1476.0,608.3 L1478.0,608.7 L1480.0,609.1 L1482.0,609.5 L1484.0,609.9 L1486.0,610.3 L1488.0,610.7 L1490.0,611.1 L1492.0,611.5 L1494.0,611.9 L1496.0,612.3 L1498.0,612.7 L1500.0,613.1 L1502.0,613.5 L1504.0,613.9 L1506.0,614.3 L1508.0,614.7 L1510.0,615.1 L1512.0,615.5 L1514.0,615.9 L1516.0,616.2 L1518.0,616.6 L1520.0,617.0 L1522.0,617.4 L1524.0,617.8 L1526.0,618.2 L1528.0,618.6 L1530.0,619.0 L1532.0,619.4 L1534.0,619.8 L1536.0,620.2 L1538.0,620.5 L1540.0,620.9 L1542.0,621.3 L1544.0,621.7 L1546.0,622.1 L1548.0,622.5 L1550.0,622.8 L1552.0,623.2 L1554.0,623.6 L1556.0,624.0 L1558.0,624.4 L1560.0,624.8 L1562.0,625.1 L1564.0,625.5 L1566.0,625.9 L1568.0,626.3 L1570.0,626.7 L1572.0,627.1 L1574.0,627.5 L1576.0,627.8 L1578.0,628.2 L1580.0,628.6 L1582.0,629.0 L1584.0,629.4 L1586.0,629.8 L1588.0,630.2 L1590.0,630.5 L1592.0,630.9 L1594.0,631.3 L1596.0,631.7 L1598.0,632.1 L1600.0,632.5 L1602.0,632.8 L1604.0,633.2 L1606.0,633.6 L1608.0,634.0 L1610.0,634.4 L1612.0,634.8 L1614.0,635.1 L1616.0,635.5 L1618.0,635.9 L1620.0,636.3 L1622.0,636.7 L1624.0,637.0 L1626.0,637.4 L1628.0,637.8 L1630.0,638.2 L1632.0,638.6 L1634.0,638.9 L1636.0,639.3 L1638.0,639.7 L1640.0,640.1 L1642.0,640.5 L1644.0,640.8 L1646.0,641.2 L1648.0,641.6 L1650.0,642.0 L1652.0,642.4 L1654.0,642.7 L1656.0,643.1 L1658.0,643.5 L1660.0,643.9 L1662.0,644.3 L1664.0,644.6 L1666.0,645.0 L1668.0,645.4 L1670.0,645.8 L1672.0,646.2 L1674.0,646.5 L1676.0,646.9 L1678.0,647.3 L1680.0,647.7 L1682.0,648.1 L1684.0,648.4 L1686.0,648.8 L1688.0,649.2 L1690.0,649.6 L1692.0,650.0 L1694.0,650.3 L1696.0,650.7 L1698.0,651.1 L1700.0,651.5 L1702.0,651.9 L1704.0,652.3 L1706.0,652.7 L1708.0,653.0 L1710.0,653.4 L1712.0,653.8 L1714.0,654.2 L1716.0,654.6 L1718.0,655.0 L1720.0,655.4 L1722.0,655.7 L1724.0,656.1 L1726.0,656.5 L1728.0,656.9 L1730.0,657.3 L1732.0,657.7 L1734.0,658.1 L1736.0,658.5 L1738.0,658.8 L1740.0,659.2 L1742.0,659.6 L1744.0,660.0 L1746.0,660.4 L1748.0,660.8 L1750.0,661.2 L1752.0,661.6 L1754.0,662.0 L1756.0,662.3 L1758.0,662.7 L1760.0,663.1 L1762.0,663.5 L1764.0,663.9 L1766.0,664.3 L1768.0,664.7 L1770.0,665.1 L1772.0,665.5 L1774.0,665.9 L1776.0,666.3 L1778.0,666.7 L1780.0,667.1 L1782.0,667.5 L1784.0,667.9 L1786.0,668.3 L1788.0,668.7 L1790.0,669.1 L1792.0,669.5 L1794.0,669.9 L1796.0,670.3 L1798.0,670.7 L1800.0,671.1 L1802.0,671.5 L1804.0,671.9 L1806.0,672.3 L1808.0,672.7 L1810.0,673.1 L1812.0,673.5 L1814.0,673.9 L1816.0,674.3 L1818.0,674.7 L1820.0,675.1 L1822.0,675.5 L1824.0,675.9 L1826.0,676.4 L1828.0,676.8 L1830.0,677.2 L1832.0,677.6 L1834.0,678.0 L1836.0,678.4 L1838.0,678.8 L1840.0,679.2 L1842.0,679.7 L1844.0,680.1 L1846.1,680.5 L1848.2,680.9 L1850.3,681.4 L1852.5,681.9 L1854.7,682.3 L1857.0,682.8 L1859.3,683.3 L1861.6,683.8 L1864.0,684.3 L1866.4,684.8 L1868.7,685.3 L1871.0,685.8 L1873.2,686.3 L1875.3,686.8 L1877.4,687.2 L1879.3,687.6 L1881.0,688.0 L1882.7,688.4 L1884.2,688.7 L1885.5,689.0 L1886.9,689.3 L1888.1,689.5 L1889.1,689.7 L1890.0,689.9" fill="none" stroke="#707070" stroke-width="10" stroke-linejoin="round" stroke-linecap="butt"/>
<path d="M333.0,72.0 L335.0,72.0 L337.1,71.9 L339.1,71.9 L341.2,71.9 L343.2,71.8 L345.3,71.8 L347.3,71.8 L349.4,71.7 L351.5,71.7 L353.6,71.7 L355.6,71.6 L357.7,71.6 L359.8,71.6 L361.9,71.5 L364.0,71.5 L366.1,71.5 L368.2,71.5 L370.3,71.4 L372.4,71.4 L374.5,71.4 L376.6,71.3 L378.7,71.3 L380.8,71.3 L382.9,71.2 L385.0,71.2 L387.1,71.2 L389.2,71.1 L391.3,71.1 L393.4,71.1 L395.4,71.1 L397.5,71.0 L399.6,71.0 L401.6,71.0 L403.7,70.9 L405.7,70.9 L407.8,70.9 L409.8,70.8 L411.8,70.8 L413.9,70.8 L415.9,70.7 L417.9,70.7 L419.9,70.7 L421.8,70.6 L423.8,70.6 L425.8,70.5 L427.7,70.5 L429.6,70.5 L431.5,70.4 L433.5,70.4 L435.3,70.3 L437.2,70.3 L439.1,70.3 L440.9,70.2 L442.8,70.2 L444.6,70.1 L446.6,70.1 L448.5,70.0 L450.5,70.0 L452.6,69.9 L454.6,69.8 L456.8,69.8 L458.9,69.7 L461.2,69.6 L463.4,69.5 L465.6,69.4 L467.7,69.3 L469.9,69.2 L472.1,69.1 L474.2,69.0 L476.4,68.9 L478.5,68.8 L480.6,68.7 L482.7,68.6 L484.7,68.5 L486.8,68.4 L488.8,68.3 L490.8,68.2 L492.8,68.1 L494.8,68.0 L496.8,67.9 L498.7,67.9 L500.6,67.8 L502.5,67.7 L504.4,67.7 L506.2,67.6 L508.0,67.6 L509.8,67.5 L511.5,67.5 L513.3,67.5 L515.1,67.5 L516.9,67.5 L518.8,67.5 L520.8,67.5 L522.8,67.6 L524.9,67.6 L527.0,67.6 L529.2,67.7 L531.3,67.8 L533.5,67.9 L535.6,68.0 L537.6,68.1 L539.6,68.3 L541.6,68.5 L543.5,68.7 L545.4,69.0 L547.3,69.4 L549.3,69.9 L551.2,70.4 L553.1,71.1 L555.0,71.9 L556.8,72.7 L558.7,73.6 L560.6,74.5 L562.5,75.5 L564.4,76.4 L566.2,77.3 L568.1,78.2 L570.0,78.9 L571.9,79.5 L573.8,80.1 L575.8,80.5 L577.8,80.9 L579.7,81.2 L581.7,81.4 L583.7,81.5 L585.8,81.7 L587.8,81.8 L589.8,81.9 L591.9,82.0 L593.9,82.1 L596.0,82.3 L598.0,82.4 L600.1,82.6 L602.2,82.8 L604.3,83.0 L606.4,83.2 L608.5,83.5 L610.7,83.7 L612.8,84.0 L614.9,84.3 L617.0,84.5 L619.0,84.8 L621.1,85.1 L623.1,85.4 L625.1,85.7 L627.1,86.0 L629.1,86.4 L631.0,86.7 L633.0,87.1 L634.9,87.5 L636.9,88.0 L638.9,88.4 L640.8,88.9 L642.6,89.4 L644.5,90.0 L646.3,90.6 L648.2,91.3 L650.0,91.9 L651.8,92.6 L653.5,93.4 L655.3,94.1 L657.1,94.9 L658.9,95.8 L660.8,96.6 L662.7,97.5 L664.6,98.4 L666.5,99.3 L668.4,100.2 L670.4,101.1 L672.3,102.0 L674.2,102.8 L676.1,103.7 L678.0,104.6 L679.9,105.4 L681.8,106.2 L683.7,107.1 L685.6,107.9 L687.5,108.7 L689.4,109.5 L691.3,110.2 L693.2,111.0 L695.1,111.8 L697.0,112.6 L699.0,113.4 L700.9,114.2 L702.8,115.0 L704.7,115.9 L706.7,116.7 L708.6,117.6 L710.5,118.4 L712.4,119.3 L714.3,120.2 L716.2,121.1 L718.0,122.1 L719.9,123.0 L721.7,124.0 L723.5,125.0 L725.3,126.0 L727.0,127.0 L728.8,128.0 L730.6,129.0 L732.3,130.1 L734.0,131.1 L735.8,132.2 L737.5,133.3 L739.3,134.4 L741.0,135.5 L742.7,136.6 L744.5,137.8 L746.2,138.9 L747.9,140.0 L749.6,141.2 L751.4,142.3 L753.1,143.4 L754.8,144.6 L756.5,145.7 L758.2,146.8 L759.9,148.0 L761.6,149.1 L763.3,150.2 L765.0,151.4 L766.7,152.5 L768.4,153.6 L770.0,154.7 L771.7,155.9 L773.4,157.0 L775.0,158.2 L776.7,159.3 L778.3,160.5 L780.0,161.6 L781.7,162.8 L783.3,163.9 L785.0,165.1 L786.7,166.2 L788.3,167.4 L790.0,168.5 L791.6,169.7 L793.3,170.8 L795.0,171.9 L796.7,173.1 L798.4,174.2 L800.1,175.3 L801.8,176.5 L803.6,177.6 L805.4,178.8 L807.1,179.9 L808.9,181.1 L810.8,182.3 L812.6,183.4 L814.4,184.6 L816.2,185.8 L818.0,186.9 L819.9,188.1 L821.7,189.2 L823.4,190.4 L825.2,191.5 L827.0,192.6 L828.7,193.6 L830.4,194.7 L832.1,195.7 L833.7,196.7 L835.4,197.7 L837.1,198.7 L838.8,199.7 L840.5,200.7 L842.3,201.7 L844.0,202.7 L845.8,203.7 L847.6,204.7 L849.4,205.7 L851.2,206.7 L853.0,207.7 L854.8,208.6 L856.5,209.6 L858.3,210.6 L860.1,211.6 L861.9,212.6 L863.7,213.6 L865.5,214.7 L867.3,215.7 L869.1,216.8 L870.9,217.9 L872.8,219.0 L874.6,220.1 L876.3,221.2 L878.1,222.4 L879.9,223.5 L881.6,224.6 L883.3,225.8 L885.0,226.9 L886.7,228.1 L888.4,229.3 L890.1,230.5 L891.7,231.7 L893.4,232.9 L895.0,234.2 L896.7,235.5 L898.3,236.7 L899.9,238.0 L901.5,239.3 L903.1,240.6 L904.7,241.9 L906.3,243.2 L907.8,244.6 L909.4,245.9 L910.9,247.3 L912.4,248.7 L914.0,250.1 L915.5,251.6 L916.9,253.0 L918.4,254.5 L919.8,256.1 L921.2,257.7 L922.6,259.3 L924.0,260.9 L925.3,262.6 L926.6,264.3 L927.9,266.1 L929.2,267.8 L930.5,269.5 L931.8,271.2 L933.2,272.9 L934.5,274.5 L935.9,276.0 L937.3,277.5 L938.8,279.0 L940.4,280.3 L942.0,281.6 L943.7,282.7 L945.4,283.8 L947.2,284.9 L949.1,285.9 L950.9,286.9 L952.7,287.8 L954.5,288.7 L956.4,289.7 L958.2,290.7 L959.9,291.7 L961.7,292.8 L963.4,293.8 L965.1,294.9 L966.8,296.1 L968.4,297.2 L970.1,298.4 L971.8,299.5 L973.6,300.7 L975.3,301.8 L977.2,302.8 L979.0,303.9 L980.9,304.9 L982.9,305.9 L984.9,306.9 L986.9,307.8 L988.9,308.8 L990.9,309.8 L992.8,310.8 L994.6,311.9 L996.4,313.0 L998.1,314.2 L999.7,315.5 L1001.2,316.8 L1002.6,318.3 L1003.9,319.8 L1005.2,321.4 L1006.5,323.0 L1007.7,324.6 L1008.9,326.3 L1010.1,327.9 L1011.4,329.6 L1012.6,331.3 L1013.9,332.9 L1015.3,334.6 L1016.6,336.2 L1017.9,337.9 L1019.3,339.6 L1020.6,341.3 L1021.9,342.9 L1023.2,344.6 L1024.5,346.3 L1025.8,348.0 L1027.1,349.7 L1028.4,351.4 L1029.7,353.1 L1031.0,354.8 L1032.3,356.5 L1033.6,358.2 L1035.0,359.9 L1036.3,361.6 L1037.7,363.3 L1039.0,365.0 L1040.4,366.7 L1041.7,368.4 L1043.1,370.1 L1044.4,371.7 L1045.8,373.4 L1047.1,375.1 L1048.4,376.8 L1049.7,378.4 L1051.0,380.1 L1052.3,381.7 L1053.5,383.3 L1054.7,384.9 L1056.0,386.6 L1057.2,388.2 L1058.4,389.9 L1059.5,391.5 L1060.7,393.2 L1061.8,394.8 L1062.9,396.5 L1064.0,398.2 L1065.0,400.0 L1066.1,401.7 L1067.1,403.4 L1068.1,405.2 L1069.2,407.0 L1070.2,408.8 L1071.3,410.7 L1072.4,412.5 L1073.5,414.4 L1074.7,416.2 L1075.8,418.0 L1076.9,419.7 L1078.1,421.5 L1079.2,423.2 L1080.4,424.9 L1081.5,426.6 L1082.7,428.2 L1083.9,429.9 L1085.1,431.6 L1086.3,433.2 L1087.6,434.9 L1088.8,436.6 L1090.1,438.3 L1091.3,440.0 L1092.6,441.7 L1093.8,443.4 L1095.1,445.0 L1096.3,446.7 L1097.6,448.3 L1098.8,450.0 L1100.0,451.6 L1101.2,453.3 L1102.5,454.9 L1103.7,456.6 L1104.9,458.2 L1106.1,459.8 L1107.3,461.5 L1108.5,463.1 L1109.7,464.7 L1111.0,466.3 L1112.2,467.9 L1113.4,469.5 L1114.7,471.1 L1115.9,472.7 L1117.2,474.3 L1118.4,475.8 L1119.7,477.4 L1121.0,479.0 L1122.3,480.6 L1123.6,482.1 L1124.9,483.7 L1126.2,485.3 L1127.5,486.9 L1128.8,488.4 L1130.1,490.0 L1131.4,491.6 L1132.7,493.1 L1134.1,494.7 L1135.5,496.2 L1136.9,497.7 L1138.4,499.1 L1139.8,500.5 L1141.4,501.9 L1142.9,503.3 L1144.5,504.6 L1146.1,505.8 L1147.8,507.0 L1149.5,508.2 L1151.3,509.4 L1153.1,510.5 L1154.9,511.5 L1156.8,512.6 L1158.8,513.6 L1160.7,514.6 L1162.7,515.6 L1164.6,516.5 L1166.6,517.4 L1168.6,518.3 L1170.5,519.1 L1172.4,519.9 L1174.3,520.7 L1176.1,521.4 L1177.9,522.1 L1179.8,522.8 L1181.7,523.4 L1183.6,524.0 L1185.5,524.5 L1187.4,525.0 L1189.4,525.5 L1191.4,525.9 L1193.5,526.4 L1195.5,526.7 L1197.5,527.1 L1199.4,527.5 L1201.3,527.8 L1203.3,528.2 L1205.2,528.6 L1207.1,528.9 L1209.0,529.3 L1210.9,529.7 L1212.9,530.1 L1214.9,530.5 L1216.9,530.9 L1219.0,531.3 L1221.1,531.7 L1223.2,532.2 L1225.3,532.6 L1227.5,533.0 L1229.6,533.4 L1231.7,533.8 L1233.8,534.3 L1235.8,534.7 L1237.9,535.1 L1239.9,535.5 L1242.0,535.9 L1244.0,536.3 L1246.0,536.7 L1248.0,537.1 L1250.0,537.5 L1252.0,537.9 L1254.0,538.3 L1256.0,538.7 L1258.0,539.1 L1260.0,539.5 L1262.0,539.9 L1264.0,540.3 L1266.0,540.7 L1268.0,541.0 L1270.0,541.4 L1272.0,541.8 L1274.0,542.2 L1276.0,542.6 L1278.0,543.0 L1280.0,543.4 L1282.0,543.8 L1284.0,544.2 L1286.0,544.6 L1288.0,545.0 L1290.0,545.3 L1292.0,545.7 L1294.0,546.1 L1296.0,546.5 L1298.0,546.9 L1300.0,547.3 L1302.0,547.7 L1304.0,548.0 L1306.0,548.4 L1308.0,548.8 L1310.0,549.2 L1312.0,549.6 L1314.0,550.0 L1316.0,550.3 L1318.0,550.7 L1320.0,551.1 L1322.0,551.5 L1324.0,551.9 L1326.0,552.2 L1328.0,552.6 L1330.0,553.0 L1332.0,553.4 L1334.0,553.8 L1336.0,554.2 L1338.0,554.5 L1340.0,554.9 L1342.0,555.3 L1344.0,555.7 L1346.0,556.1 L1348.0,556.4 L1350.0,556.8 L1352.0,557.2 L1354.0,557.6 L1356.0,557.9 L1358.0,558.3 L1360.0,558.7 L1362.0,559.1 L1364.0,559.4 L1366.0,559.8 L1368.0,560.2 L1370.0,560.6 L1372.0,560.9 L1374.0,561.3 L1376.0,561.7 L1378.0,562.0 L1380.0,562.4 L1382.0,562.8 L1384.0,563.2 L1386.0,563.5 L1388.0,563.9 L1390.0,564.3 L1392.0,564.6 L1394.0,565.0 L1396.0,565.4 L1398.0,565.7 L1400.0,566.1 L1402.0,566.5 L1404.0,566.8 L1406.0,567.2 L1408.0,567.6 L1410.0,567.9 L1412.0,568.3 L1414.0,568.7 L1416.0,569.0 L1418.0,569.4 L1420.0,569.8 L1422.0,570.1 L1424.0,570.5 L1426.0,570.9 L1428.0,571.2 L1430.0,571.6 L1432.0,571.9 L1434.0,572.3 L1436.0,572.7 L1438.0,573.0 L1440.0,573.4 L1442.0,573.8 L1444.0,574.1 L1446.0,574.5 L1448.0,574.8 L1450.0,575.2 L1452.0,575.6 L1454.0,575.9 L1456.0,576.3 L1458.0,576.7 L1460.0,577.0 L1462.0,577.4 L1464.0,577.7 L1466.0,578.1 L1468.0,578.5 L1470.0,578.8 L1472.0,579.2 L1474.0,579.5 L1476.0,579.9 L1478.0,580.2 L1480.0,580.6 L1482.0,581.0 L1484.0,581.3 L1486.0,581.7 L1488.0,582.0 L1490.0,582.4 L1492.0,582.7 L1494.0,583.1 L1496.0,583.4 L1498.0,583.8 L1500.0,584.1 L1502.0,584.5 L1504.0,584.8 L1506.0,585.2 L1508.0,585.5 L1510.0,585.9 L1512.0,586.2 L1514.0,586.6 L1516.0,586.9 L1518.0,587.3 L1520.0,587.6 L1522.0,588.0 L1524.0,588.3 L1526.0,588.7 L1528.0,589.0 L1530.0,589.4 L1532.0,589.7 L1534.0,590.1 L1536.0,590.4 L1538.0,590.8 L1540.0,591.1 L1542.0,591.5 L1544.0,591.8 L1546.0,592.2 L1548.0,592.5 L1550.0,592.9 L1552.0,593.2 L1554.0,593.6 L1556.0,593.9 L1558.0,594.3 L1560.0,594.6 L1562.0,594.9 L1564.0,595.3 L1566.0,595.6 L1568.0,596.0 L1570.0,596.3 L1572.0,596.7 L1574.0,597.0 L1576.0,597.4 L1578.0,597.7 L1580.0,598.1 L1582.0,598.4 L1584.0,598.8 L1586.0,599.1 L1588.0,599.4 L1590.0,599.8 L1592.0,600.1 L1594.0,600.5 L1596.0,600.8 L1598.0,601.2 L1600.0,601.5 L1602.0,601.8 L1604.0,602.2 L1606.0,602.5 L1608.0,602.9 L1610.0,603.2 L1612.0,603.5 L1614.0,603.9 L1616.0,604.2 L1618.0,604.6 L1620.0,604.9 L1622.0,605.3 L1624.0,605.6 L1626.0,605.9 L1628.0,606.3 L1630.0,606.6 L1632.0,606.9 L1634.0,607.3 L1636.0,607.6 L1638.0,608.0 L1640.0,608.3 L1642.0,608.6 L1644.0,609.0 L1646.0,609.3 L1648.0,609.6 L1650.0,610.0 L1652.0,610.3 L1654.0,610.7 L1656.0,611.0 L1658.0,611.3 L1660.0,611.7 L1662.0,612.0 L1664.0,612.3 L1666.0,612.7 L1668.0,613.0 L1670.0,613.3 L1672.0,613.7 L1674.0,614.0 L1676.0,614.3 L1678.0,614.7 L1680.0,615.0 L1682.0,615.3 L1684.0,615.7 L1686.0,616.0 L1688.0,616.3 L1690.0,616.7 L1692.0,617.0 L1694.0,617.3 L1696.0,617.7 L1698.0,618.0 L1700.0,618.4 L1702.0,618.7 L1704.0,619.0 L1706.0,619.4 L1708.0,619.7 L1710.0,620.0 L1712.0,620.4 L1714.0,620.7 L1716.0,621.0 L1718.0,621.4 L1720.0,621.7 L1722.0,622.0 L1724.0,622.4 L1726.0,622.7 L1728.0,623.0 L1730.0,623.4 L1732.0,623.7 L1734.0,624.0 L1736.0,624.4 L1738.0,624.7 L1740.0,625.1 L1742.0,625.4 L1744.0,625.7 L1746.0,626.1 L1748.0,626.4 L1750.0,626.7 L1752.0,627.1 L1754.0,627.4 L1756.0,627.7 L1758.0,628.1 L1760.0,628.4 L1762.0,628.7 L1764.0,629.1 L1766.0,629.4 L1768.0,629.7 L1770.0,630.1 L1772.0,630.4 L1774.0,630.7 L1776.0,631.0 L1778.0,631.4 L1780.0,631.7 L1782.0,632.0 L1784.0,632.4 L1786.0,632.7 L1788.0,633.0 L1790.0,633.3 L1792.0,633.7 L1794.0,634.0 L1796.0,634.3 L1798.0,634.7 L1800.0,635.0 L1802.0,635.3 L1804.0,635.7 L1806.0,636.0 L1808.0,636.3 L1810.0,636.7 L1812.0,637.0 L1814.0,637.3 L1816.0,637.7 L1818.0,638.0 L1820.0,638.4 L1822.0,638.7 L1824.0,639.0 L1826.0,639.4 L1828.0,639.7 L1830.0,640.0 L1832.0,640.4 L1834.0,640.7 L1836.0,641.0 L1838.0,641.4 L1840.1,641.7 L1842.2,642.1 L1844.3,642.4 L1846.4,642.8 L1848.5,643.1 L1850.7,643.5 L1852.9,643.8 L1855.1,644.2 L1857.2,644.5 L1859.4,644.9 L1861.6,645.3 L1863.7,645.6 L1865.7,645.9 L1867.8,646.3 L1869.7,646.6 L1871.6,646.9 L1873.4,647.2 L1875.2,647.5 L1877.1,647.8 L1878.9,648.1 L1880.7,648.4 L1882.5,648.7 L1884.3,649.0 L1886.3,649.4 L1888.1,649.7 L1890.0,650.0" fill="none" stroke="#000099" stroke-width="10" stroke-linejoin="round" stroke-linecap="butt"/>
<path d="M333.0,67.5 L335.0,67.5 L337.1,67.5 L339.1,67.5 L341.2,67.5 L343.2,67.5 L345.3,67.5 L347.3,67.5 L349.4,67.5 L351.5,67.5 L353.6,67.5 L355.7,67.5 L357.8,67.5 L359.8,67.5 L361.9,67.5 L364.0,67.5 L366.2,67.5 L368.3,67.5 L370.4,67.5 L372.5,67.5 L374.6,67.5 L376.7,67.5 L378.8,67.5 L380.9,67.5 L383.0,67.5 L385.1,67.5 L387.2,67.5 L389.3,67.5 L391.4,67.5 L393.5,67.5 L395.5,67.5 L397.6,67.5 L399.7,67.4 L401.7,67.4 L403.8,67.4 L405.9,67.4 L407.9,67.4 L409.9,67.4 L412.0,67.4 L414.0,67.4 L416.0,67.4 L418.0,67.4 L420.0,67.4 L421.9,67.4 L423.9,67.4 L425.9,67.5 L427.8,67.5 L429.7,67.5 L431.6,67.5 L433.5,67.5 L435.4,67.5 L437.3,67.5 L439.2,67.5 L441.0,67.5 L442.8,67.5 L444.7,67.5 L446.6,67.5 L448.6,67.5 L450.6,67.5 L452.7,67.5 L454.8,67.5 L457.0,67.4 L459.3,67.4 L461.6,67.4 L463.9,67.4 L466.3,67.3 L468.6,67.3 L470.9,67.2 L473.3,67.2 L475.6,67.1 L477.9,67.1 L480.2,67.0 L482.4,67.0 L484.7,66.9 L486.9,66.9 L489.0,66.8 L491.2,66.8 L493.3,66.8 L495.3,66.8 L497.3,66.8 L499.3,66.8 L501.2,66.8 L503.1,66.8 L504.9,66.9 L506.6,66.9 L508.2,67.0 L509.8,67.1 L511.3,67.2 L512.8,67.3 L514.4,67.6 L516.0,67.9 L517.7,68.3 L519.4,68.8 L521.1,69.5 L522.8,70.3 L524.6,71.4 L526.3,72.5 L528.2,73.9 L530.0,75.2 L531.6,76.5 L533.2,77.8 L534.9,78.9 L536.6,80.0 L538.3,81.0 L540.2,81.8 L542.1,82.4 L544.1,83.0 L546.1,83.5 L548.2,84.0 L550.3,84.5 L552.5,85.0 L554.6,85.5 L556.8,86.0 L558.9,86.5 L561.0,87.1 L563.1,87.7 L565.2,88.3 L567.3,89.0 L569.3,89.7 L571.4,90.4 L573.4,91.1 L575.4,91.9 L577.4,92.7 L579.3,93.5 L581.2,94.4 L583.1,95.2 L585.0,96.2 L586.8,97.1 L588.5,98.1 L590.3,99.1 L592.0,100.2 L593.7,101.3 L595.3,102.5 L596.9,103.7 L598.4,105.1 L599.9,106.5 L601.4,108.0 L602.9,109.6 L604.3,111.2 L605.6,112.9 L607.0,114.7 L608.4,116.4 L609.8,118.1 L611.1,119.8 L612.5,121.5 L613.9,123.1 L615.3,124.7 L616.7,126.3 L618.1,127.9 L619.6,129.5 L621.0,131.1 L622.5,132.7 L623.9,134.3 L625.3,136.0 L626.7,137.8 L628.0,139.6 L629.3,141.4 L630.5,143.2 L631.5,145.2 L632.5,147.1 L633.4,149.1 L634.2,151.2 L635.0,153.3 L635.6,155.4 L636.3,157.6 L636.9,159.7 L637.4,161.9 L638.0,164.0 L638.5,166.1 L639.0,168.3 L639.5,170.4 L640.0,172.5 L640.5,174.6 L641.0,176.7 L641.5,178.8 L642.1,180.8 L642.6,182.8 L643.2,184.8 L643.8,186.8 L644.5,188.8 L645.2,190.7 L645.9,192.7 L646.6,194.6 L647.3,196.6 L648.1,198.5 L648.9,200.4 L649.7,202.4 L650.6,204.3 L651.5,206.2 L652.5,208.1 L653.4,210.0 L654.5,211.9 L655.6,213.7 L656.7,215.5 L657.9,217.3 L659.2,219.1 L660.5,220.8 L661.8,222.6 L663.2,224.3 L664.5,226.0 L665.9,227.7 L667.2,229.4 L668.5,231.1 L669.8,232.8 L671.0,234.5 L672.1,236.2 L673.2,237.9 L674.3,239.6 L675.4,241.4 L676.4,243.1 L677.5,244.8 L678.5,246.6 L679.6,248.4 L680.7,250.2 L681.8,252.0 L682.9,253.8 L684.1,255.7 L685.2,257.5 L686.4,259.4 L687.5,261.3 L688.5,263.2 L689.6,265.1 L690.5,267.0 L691.5,268.9 L692.3,270.7 L693.2,272.6 L693.9,274.5 L694.7,276.4 L695.4,278.3 L696.2,280.2 L696.9,282.1 L697.7,284.0 L698.4,285.9 L699.2,287.8 L700.0,289.7 L700.7,291.5 L701.5,293.4 L702.3,295.3 L703.0,297.3 L703.7,299.2 L704.5,301.2 L705.2,303.3 L705.8,305.3 L706.5,307.4 L707.1,309.5 L707.8,311.6 L708.4,313.7 L708.9,315.7 L709.5,317.8 L710.1,319.8 L710.6,321.8 L711.1,323.8 L711.6,325.8 L712.1,327.8 L712.6,329.7 L713.1,331.7 L713.6,333.8 L714.0,335.8 L714.5,337.9 L715.0,339.9 L715.5,342.0 L716.0,344.2 L716.5,346.3 L717.0,348.4 L717.5,350.5 L718.0,352.6 L718.4,354.8 L718.9,356.9 L719.3,359.0 L719.8,361.2 L720.2,363.3 L720.6,365.4 L721.0,367.4 L721.4,369.5 L721.7,371.5 L722.1,373.5 L722.4,375.5 L722.7,377.5 L723.0,379.4 L723.3,381.4 L723.6,383.4 L723.9,385.4 L724.3,387.5 L724.5,389.6 L724.8,391.6 L725.1,393.7 L725.4,395.8 L725.7,397.8 L726.0,399.9 L726.2,401.9 L726.5,404.0 L726.7,406.0 L727.0,408.1 L727.2,410.1 L727.5,412.2 L727.7,414.2 L727.9,416.3 L728.1,418.3 L728.4,420.4 L728.6,422.5 L728.8,424.6 L729.1,426.7 L729.3,428.7 L729.5,430.8 L729.8,432.8 L730.0,434.9 L730.2,436.9 L730.5,438.9 L730.7,440.8 L730.9,442.8 L731.2,444.7 L731.4,446.7 L731.6,448.6 L731.9,450.5 L732.1,452.5 L732.3,454.5 L732.6,456.5 L732.8,458.5 L733.1,460.6 L733.3,462.6 L733.6,464.7 L733.8,466.8 L734.1,468.8 L734.3,470.8 L734.6,472.7 L734.8,474.7 L735.1,476.6 L735.3,478.5 L735.5,480.3 L735.8,482.2 L736.0,484.0 L736.3,486.0 L736.5,487.9 L736.8,489.8 L737.0,491.8 L737.3,493.8 L737.5,495.8 L737.8,497.9 L738.0,499.9 L738.3,501.9 L738.6,504.0 L738.8,506.1 L739.1,508.1 L739.4,510.2 L739.6,512.3 L739.9,514.4 L740.1,516.5 L740.4,518.5 L740.7,520.6 L740.9,522.7 L741.2,524.8 L741.4,526.8 L741.7,528.9 L741.9,530.9 L742.1,533.0 L742.4,535.0 L742.6,537.0 L742.8,539.1 L743.1,541.1 L743.3,543.2 L743.5,545.2 L743.7,547.2 L744.0,549.3 L744.2,551.3 L744.4,553.4 L744.6,555.4 L744.8,557.5 L745.1,559.5 L745.3,561.6 L745.5,563.6 L745.7,565.7 L745.9,567.7 L746.1,569.8 L746.3,571.8 L746.5,573.9 L746.7,575.9 L746.9,578.0 L747.1,580.0 L747.3,582.1 L747.5,584.1 L747.7,586.2 L747.9,588.2 L748.1,590.3 L748.3,592.3 L748.5,594.4 L748.7,596.4 L748.8,598.5 L749.0,600.5 L749.2,602.6 L749.4,604.7 L749.5,606.7 L749.7,608.8 L749.9,610.8 L750.1,612.9 L750.2,614.9 L750.4,617.0 L750.6,619.0 L750.7,621.1 L750.9,623.1 L751.0,625.2 L751.2,627.2 L751.3,629.3 L751.5,631.3 L751.6,633.4 L751.8,635.4 L751.9,637.5 L752.1,639.5 L752.2,641.6 L752.4,643.7 L752.5,645.7 L752.7,647.8 L752.8,649.8 L752.9,651.9 L753.1,653.9 L753.2,656.0 L753.3,658.0 L753.5,660.1 L753.6,662.1 L753.7,664.2 L753.9,666.3 L754.0,668.3 L754.1,670.4 L754.3,672.4 L754.4,674.5 L754.5,676.6 L754.6,678.7 L754.8,680.8 L754.9,682.8 L755.0,684.9 L755.2,687.0 L755.3,689.1 L755.4,691.2 L755.5,693.3 L755.6,695.4 L755.8,697.5 L755.9,699.6 L756.0,701.7 L756.1,703.8 L756.2,705.8 L756.3,707.9 L756.4,710.0 L756.5,712.0 L756.6,714.1 L756.7,716.1 L756.8,718.1 L756.9,720.2 L757.0,722.2 L757.1,724.2 L757.1,726.2 L757.2,728.1 L757.3,730.2 L757.3,732.2 L757.4,734.2 L757.4,736.2 L757.5,738.3 L757.5,740.3 L757.5,742.4 L757.6,744.5 L757.6,746.5 L757.6,748.6 L757.6,750.6 L757.6,752.6 L757.6,754.6 L757.6,756.7 L757.6,758.6 L757.6,760.6 L757.6,762.6 L757.6,764.6 L757.6,766.6 L757.6,768.6 L757.6,770.6 L757.5,772.5 L757.5,774.5 L757.5,776.5 L757.5,778.5 L757.5,780.5 L757.5,782.5 L757.5,784.5" fill="none" stroke="#d957e0" stroke-width="10" stroke-linejoin="round" stroke-linecap="butt"/>
<path d="M794.0,861.5 L795.5,862.8 L797.0,864.1 L798.5,865.4 L800.1,866.8 L801.6,868.1 L803.1,869.4 L804.6,870.7 L806.1,871.9 L807.6,873.2 L809.1,874.5 L810.6,875.7 L812.1,876.9 L813.6,878.2 L815.2,879.5 L816.8,880.8 L818.4,882.1 L820.1,883.4 L821.8,884.7 L823.6,886.0 L825.3,887.2 L827.1,888.4 L828.8,889.6 L830.6,890.7 L832.3,891.8 L834.0,892.8 L835.8,893.9 L837.5,894.8 L839.3,895.8 L841.0,896.7 L842.8,897.7 L844.6,898.6 L846.5,899.6 L848.3,900.5 L850.2,901.4 L852.1,902.3 L854.0,903.2 L855.9,904.0 L857.8,904.8 L859.8,905.7 L861.7,906.5 L863.6,907.2 L865.5,908.0 L867.5,908.7 L869.4,909.4 L871.3,910.1 L873.3,910.7 L875.2,911.3 L877.2,911.9 L879.1,912.5 L881.1,913.0 L883.1,913.5 L885.0,914.0 L887.0,914.4 L889.0,914.9 L891.0,915.3 L893.0,915.7 L895.0,916.0 L897.0,916.4 L899.0,916.7 L901.0,917.1 L903.1,917.4 L905.2,917.7 L907.2,918.0 L909.3,918.3 L911.4,918.7 L913.4,918.9 L915.4,919.2 L917.4,919.5 L919.4,919.8 L921.4,920.0 L923.4,920.3 L925.4,920.5 L927.3,920.7 L929.3,920.9 L931.3,921.1 L933.3,921.3 L935.3,921.5 L937.4,921.7 L939.4,921.8 L941.5,922.0 L943.5,922.2 L945.6,922.3 L947.6,922.5 L949.7,922.7 L951.8,922.9 L953.8,923.0 L955.9,923.2 L958.0,923.4 L960.0,923.6 L962.1,923.8 L964.1,924.0 L966.2,924.3 L968.2,924.5 L970.3,924.8 L972.3,925.0 L974.3,925.3 L976.3,925.6 L978.4,925.9 L980.4,926.2 L982.4,926.5 L984.4,926.9 L986.5,927.2 L988.5,927.5 L990.5,927.9 L992.5,928.2 L994.6,928.6 L996.6,928.9 L998.6,929.3 L1000.6,929.6 L1002.6,930.0 L1004.7,930.4 L1006.7,930.8 L1008.7,931.1 L1010.7,931.5 L1012.7,931.9 L1014.8,932.2 L1016.8,932.6 L1018.8,933.0 L1020.8,933.3 L1022.8,933.7 L1024.9,934.1 L1026.9,934.4 L1028.9,934.8 L1030.9,935.1 L1032.9,935.5 L1035.0,935.8 L1037.0,936.2 L1039.0,936.5 L1041.0,936.9 L1043.1,937.2 L1045.1,937.6 L1047.1,937.9 L1049.1,938.3 L1051.1,938.6 L1053.2,939.0 L1055.2,939.3 L1057.2,939.7 L1059.2,940.0 L1061.3,940.4 L1063.3,940.7 L1065.3,941.1 L1067.3,941.4 L1069.3,941.8 L1071.4,942.1 L1073.4,942.5 L1075.4,942.9 L1077.4,943.2 L1079.4,943.6 L1081.5,944.0 L1083.5,944.3 L1085.5,944.7 L1087.5,945.1 L1089.5,945.5 L1091.6,945.8 L1093.6,946.2 L1095.6,946.6 L1097.6,947.0 L1099.6,947.4 L1101.7,947.8 L1103.7,948.1 L1105.7,948.5 L1107.7,948.9 L1109.7,949.3 L1111.8,949.7 L1113.8,950.1 L1115.8,950.5 L1117.8,950.9 L1119.8,951.3 L1121.8,951.7 L1123.9,952.1 L1125.9,952.5 L1127.9,953.0 L1129.9,953.4 L1131.9,953.8 L1133.9,954.2 L1135.9,954.7 L1138.0,955.1 L1139.9,955.6 L1141.9,956.0 L1143.9,956.4 L1145.9,956.9 L1147.9,957.3 L1149.8,957.8 L1151.8,958.3 L1153.8,958.7 L1155.7,959.2 L1157.7,959.6 L1159.6,960.1 L1161.6,960.6 L1163.5,961.1 L1165.5,961.6 L1167.5,962.0 L1169.4,962.5 L1171.4,963.0 L1173.3,963.5 L1175.3,964.0 L1177.2,964.5 L1179.2,965.0 L1181.1,965.5 L1183.1,966.0 L1185.0,966.5 L1187.0,967.0 L1188.9,967.6 L1190.9,968.1 L1192.9,968.6 L1194.8,969.1 L1196.8,969.7 L1198.7,970.2 L1200.7,970.8 L1202.6,971.3 L1204.6,971.9 L1206.6,972.5 L1208.5,973.0 L1210.5,973.6 L1212.5,974.2 L1214.4,974.8 L1216.4,975.4 L1218.4,976.0 L1220.3,976.7 L1222.3,977.3 L1224.3,977.9 L1226.2,978.5 L1228.2,979.1 L1230.2,979.7 L1232.1,980.3 L1234.1,980.9 L1236.0,981.5 L1238.0,982.1 L1239.9,982.7 L1241.9,983.3 L1243.8,983.9 L1245.7,984.5 L1247.6,985.0 L1249.6,985.6 L1251.5,986.1 L1253.5,986.7 L1255.4,987.2 L1257.4,987.7 L1259.4,988.3 L1261.4,988.8 L1263.4,989.3 L1265.4,989.8 L1267.4,990.4 L1269.4,990.9 L1271.4,991.4 L1273.3,991.9 L1275.3,992.3 L1277.3,992.8 L1279.3,993.3 L1281.2,993.8 L1283.2,994.2 L1285.2,994.7 L1287.1,995.1 L1289.1,995.6 L1291.1,996.0 L1293.1,996.5 L1295.0,996.9 L1297.0,997.3 L1299.0,997.7 L1301.0,998.2 L1303.0,998.6 L1305.0,999.0 L1306.9,999.4 L1308.9,999.7 L1310.9,1000.1 L1312.8,1000.5 L1314.8,1000.8 L1316.8,1001.2 L1318.7,1001.5 L1320.7,1001.9 L1322.7,1002.2 L1324.6,1002.6 L1326.6,1002.9 L1328.6,1003.2 L1330.6,1003.5 L1332.6,1003.8 L1334.5,1004.2 L1336.5,1004.5 L1338.5,1004.8 L1340.5,1005.1 L1342.5,1005.4 L1344.5,1005.7 L1346.5,1006.0 L1348.5,1006.3 L1350.5,1006.6 L1352.5,1006.9 L1354.5,1007.2 L1356.6,1007.5 L1358.6,1007.8 L1360.6,1008.1 L1362.6,1008.4 L1364.6,1008.7 L1366.6,1009.0 L1368.6,1009.3 L1370.6,1009.6 L1372.6,1009.9 L1374.6,1010.2 L1376.6,1010.5 L1378.6,1010.8 L1380.7,1011.1 L1382.7,1011.4 L1384.7,1011.7 L1386.8,1012.0 L1388.8,1012.3 L1390.8,1012.6 L1392.9,1012.8 L1394.9,1013.1 L1396.9,1013.4 L1399.0,1013.6 L1401.0,1013.9 L1403.0,1014.1 L1405.1,1014.3 L1407.1,1014.6 L1409.1,1014.8 L1411.2,1015.0 L1413.2,1015.2 L1415.2,1015.3 L1417.2,1015.5 L1419.3,1015.7 L1421.3,1015.8 L1423.3,1016.0 L1425.3,1016.1 L1427.3,1016.2 L1429.4,1016.4 L1431.4,1016.5 L1433.4,1016.6 L1435.4,1016.7 L1437.4,1016.8 L1439.5,1016.9 L1441.5,1016.9 L1443.5,1017.0 L1445.5,1017.1 L1447.6,1017.2 L1449.6,1017.3 L1451.6,1017.3 L1453.6,1017.4 L1455.6,1017.5 L1457.7,1017.5 L1459.7,1017.6 L1461.7,1017.7 L1463.7,1017.8 L1465.8,1017.8 L1467.8,1017.9 L1469.8,1018.0 L1471.8,1018.1 L1473.8,1018.2 L1475.9,1018.2 L1477.9,1018.3 L1479.9,1018.4 L1481.9,1018.5 L1483.9,1018.5 L1486.0,1018.6 L1488.0,1018.7 L1490.0,1018.8 L1492.0,1018.8 L1494.1,1018.9 L1496.1,1019.0 L1498.1,1019.0 L1500.1,1019.1 L1502.1,1019.2 L1504.2,1019.2 L1506.2,1019.3 L1508.2,1019.4 L1510.2,1019.4 L1512.2,1019.5 L1514.3,1019.6 L1516.3,1019.6 L1518.3,1019.7 L1520.3,1019.8 L1522.4,1019.9 L1524.4,1019.9 L1526.4,1020.0 L1528.4,1020.1 L1530.4,1020.2 L1532.5,1020.2 L1534.5,1020.3 L1536.5,1020.4 L1538.5,1020.5 L1540.5,1020.5 L1542.6,1020.6 L1544.6,1020.7 L1546.6,1020.8 L1548.6,1020.9 L1550.7,1020.9 L1552.7,1021.0 L1554.7,1021.1 L1556.7,1021.2 L1558.7,1021.3 L1560.8,1021.3 L1562.8,1021.4 L1564.8,1021.5 L1566.8,1021.6 L1568.8,1021.7 L1570.9,1021.8 L1572.9,1021.9 L1574.9,1021.9 L1576.9,1022.0 L1579.0,1022.1 L1581.0,1022.2 L1583.0,1022.3 L1585.0,1022.4 L1587.1,1022.5 L1589.1,1022.6 L1591.1,1022.7 L1593.1,1022.8 L1595.1,1022.9 L1597.2,1023.0 L1599.2,1023.1 L1601.2,1023.2 L1603.2,1023.3 L1605.3,1023.4 L1607.3,1023.5 L1609.3,1023.6 L1611.3,1023.7 L1613.4,1023.8 L1615.4,1023.9 L1617.4,1024.0 L1619.5,1024.1 L1621.5,1024.2 L1623.5,1024.3 L1625.5,1024.4 L1627.6,1024.5 L1629.6,1024.6 L1631.6,1024.7 L1633.6,1024.8 L1635.6,1024.9 L1637.7,1025.0 L1639.7,1025.1 L1641.7,1025.2 L1643.7,1025.3 L1645.8,1025.4 L1647.8,1025.5 L1649.8,1025.5 L1651.8,1025.6 L1653.9,1025.7 L1655.9,1025.8 L1657.9,1025.9 L1659.9,1026.0 L1661.9,1026.1 L1664.0,1026.1 L1666.0,1026.2 L1668.0,1026.3 L1670.0,1026.4 L1672.0,1026.5 L1674.1,1026.5 L1676.1,1026.6 L1678.1,1026.7 L1680.1,1026.8 L1682.2,1026.9 L1684.2,1026.9 L1686.2,1027.0 L1688.2,1027.1 L1690.2,1027.2 L1692.3,1027.2 L1694.3,1027.3 L1696.3,1027.4 L1698.3,1027.5 L1700.3,1027.5 L1702.4,1027.6 L1704.4,1027.7 L1706.4,1027.8 L1708.4,1027.8 L1710.4,1027.9 L1712.5,1028.0 L1714.5,1028.1 L1716.5,1028.1 L1718.5,1028.2 L1720.6,1028.3 L1722.6,1028.3 L1724.6,1028.4 L1726.6,1028.5 L1728.6,1028.5 L1730.7,1028.6 L1732.7,1028.7 L1734.7,1028.7 L1736.7,1028.8 L1738.7,1028.9 L1740.8,1028.9 L1742.8,1029.0 L1744.8,1029.1 L1746.8,1029.1 L1748.9,1029.2 L1750.9,1029.2 L1752.9,1029.3 L1754.9,1029.4 L1756.9,1029.4 L1758.9,1029.5 L1760.9,1029.5 L1762.9,1029.6 L1764.8,1029.7 L1766.8,1029.7 L1768.8,1029.8 L1770.8,1029.8 L1772.7,1029.9 L1774.7,1030.0 L1776.7,1030.0 L1778.6,1030.1 L1780.6,1030.1 L1782.6,1030.2 L1784.6,1030.2 L1786.6,1030.3 L1788.6,1030.3 L1790.6,1030.4 L1792.7,1030.5 L1794.7,1030.5 L1796.8,1030.5 L1798.9,1030.6 L1801.0,1030.6 L1803.1,1030.7 L1805.1,1030.7 L1807.2,1030.8 L1809.2,1030.8 L1811.2,1030.8 L1813.2,1030.9 L1815.2,1030.9 L1817.1,1030.9 L1819.1,1030.9 L1821.0,1030.9 L1823.0,1031.0 L1824.9,1031.0 L1826.9,1031.0 L1828.9,1031.0 L1830.9,1031.0 L1832.9,1031.1 L1834.9,1031.1 L1837.0,1031.1 L1839.0,1031.1 L1841.1,1031.1 L1843.1,1031.1 L1845.2,1031.1 L1847.2,1031.1 L1849.3,1031.1 L1851.4,1031.1 L1853.5,1031.2 L1855.6,1031.2 L1857.6,1031.2 L1859.7,1031.2 L1861.8,1031.2 L1863.9,1031.2 L1866.0,1031.2 L1868.1,1031.2 L1870.1,1031.2 L1872.2,1031.2 L1874.3,1031.2 L1876.4,1031.2 L1878.4,1031.2 L1880.5,1031.3 L1882.6,1031.3 L1884.6,1031.3 L1886.7,1031.3 L1888.7,1031.3" fill="none" stroke="#d957e0" stroke-width="10" stroke-linejoin="round" stroke-linecap="butt"/>
<path d="M333.0,73.0 L335.0,73.0 L337.0,73.0 L339.1,73.0 L341.1,73.0 L343.1,73.0 L345.1,73.0 L347.2,73.0 L349.2,73.0 L351.3,73.0 L353.3,73.0 L355.4,73.0 L357.4,73.0 L359.5,73.0 L361.5,73.0 L363.6,73.0 L365.6,73.0 L367.7,73.0 L369.8,73.0 L371.8,73.0 L373.9,73.0 L376.0,73.0 L378.0,73.0 L380.1,73.0 L382.2,73.0 L384.3,73.0 L386.3,73.0 L388.4,73.0 L390.5,73.0 L392.6,73.0 L394.6,73.0 L396.7,73.0 L398.8,73.0 L400.9,73.0 L403.0,73.0 L405.0,73.0 L407.1,73.0 L409.2,73.0 L411.3,73.0 L413.3,73.0 L415.4,73.0 L417.5,73.0 L419.5,73.0 L421.6,73.0 L423.7,73.0 L425.7,73.0 L427.8,73.0 L429.9,73.0 L431.9,73.0 L434.0,73.0 L436.0,73.0 L438.1,73.0 L440.1,73.0 L442.2,73.0 L444.2,73.0 L446.3,73.0 L448.3,73.0 L450.3,73.0 L452.4,73.0 L454.4,73.0 L456.4,73.0 L458.4,73.0 L460.4,73.0 L462.4,73.0 L464.4,73.0 L466.4,73.0 L468.4,73.0 L470.4,73.0 L472.4,73.0 L474.4,73.0 L476.4,73.0 L478.3,73.0 L480.3,73.0 L482.3,73.0 L484.2,73.0 L486.1,73.0 L488.1,73.0 L490.0,73.0 L491.9,73.0 L493.9,73.0 L495.8,73.0 L497.7,73.0 L499.6,73.0 L501.5,73.0 L503.4,73.0 L505.2,73.0 L507.1,73.0 L509.0,73.0 L510.8,73.0 L512.7,73.0 L514.6,73.0 L516.5,73.0 L518.4,73.0 L520.4,73.0 L522.4,73.0 L524.5,73.0 L526.6,73.0 L528.7,73.0 L530.8,73.0 L532.9,73.0 L535.1,73.0 L537.1,73.0 L539.2,73.0 L541.3,73.0 L543.4,73.0 L545.4,73.0 L547.4,73.0 L549.4,73.0 L551.5,73.0 L553.5,73.0 L555.4,73.0 L557.4,73.0 L559.4,73.0 L561.4,73.0 L563.3,73.0 L565.3,73.0 L567.2,73.0 L569.2,73.0 L571.1,73.0 L573.0,73.0 L575.0,73.0 L576.9,73.0 L578.8,73.0 L580.7,73.1 L582.7,73.1 L584.6,73.1 L586.5,73.1 L588.4,73.1 L590.4,73.1 L592.3,73.1 L594.2,73.1 L596.2,73.1 L598.1,73.1 L600.0,73.1 L602.0,73.1 L603.9,73.1 L605.9,73.1 L607.8,73.1 L609.8,73.1 L611.8,73.1 L613.8,73.1 L615.8,73.1 L617.8,73.1 L619.8,73.1 L621.8,73.1 L623.9,73.1 L625.9,73.1 L628.0,73.1 L630.1,73.2 L632.2,73.2 L634.3,73.2 L636.4,73.2 L638.5,73.2 L640.6,73.2 L642.6,73.2 L644.6,73.2 L646.6,73.2 L648.6,73.2 L650.5,73.2 L652.4,73.2 L654.2,73.2 L656.1,73.2 L657.9,73.3 L659.8,73.3 L661.6,73.3 L663.5,73.3 L665.4,73.3 L667.2,73.3 L669.1,73.3 L671.0,73.3 L672.9,73.3 L674.7,73.3 L676.6,73.3 L678.5,73.3 L680.4,73.4 L682.3,73.4 L684.2,73.4 L686.1,73.4 L688.0,73.4 L690.0,73.4 L691.9,73.4 L693.8,73.4 L695.7,73.4 L697.7,73.4 L699.6,73.5 L701.5,73.5 L703.5,73.5 L705.4,73.5 L707.4,73.5 L709.3,73.5 L711.3,73.5 L713.2,73.5 L715.2,73.5 L717.2,73.6 L719.2,73.6 L721.1,73.6 L723.1,73.6 L725.1,73.6 L727.1,73.6 L729.1,73.6 L731.1,73.6 L733.1,73.7 L735.1,73.7 L737.1,73.7 L739.2,73.7 L741.2,73.7 L743.2,73.7 L745.2,73.7 L747.3,73.7 L749.3,73.7 L751.4,73.8 L753.4,73.8 L755.5,73.8 L757.5,73.8 L759.6,73.8 L761.7,73.8 L763.8,73.8 L765.8,73.9 L767.9,73.9 L770.0,73.9 L772.1,73.9 L774.2,73.9 L776.3,73.9 L778.4,73.9 L780.6,73.9 L782.7,74.0 L784.8,74.0 L786.9,74.0 L789.1,74.0 L791.2,74.0 L793.4,74.0 L795.5,74.0 L797.7,74.0 L799.8,74.1 L802.0,74.1 L804.2,74.1 L806.4,74.1 L808.6,74.1 L810.8,74.1 L812.9,74.1 L815.2,74.1 L817.3,74.2 L819.4,74.2 L821.5,74.2 L823.5,74.2 L825.5,74.2 L827.5,74.2 L829.4,74.2 L831.2,74.2 L833.1,74.3 L834.9,74.3 L836.7,74.3 L838.6,74.3 L840.4,74.3 L842.3,74.3 L844.2,74.3 L846.0,74.3 L847.9,74.3 L849.8,74.3 L851.7,74.4 L853.6,74.4 L855.6,74.4 L857.5,74.4 L859.4,74.4 L861.3,74.4 L863.3,74.4 L865.2,74.4 L867.2,74.4 L869.1,74.4 L871.1,74.5 L873.1,74.5 L875.1,74.5 L877.0,74.5 L879.0,74.5 L881.0,74.5 L883.0,74.5 L885.0,74.5 L887.0,74.5 L889.0,74.5 L891.1,74.6 L893.1,74.6 L895.1,74.6 L897.1,74.6 L899.2,74.6 L901.2,74.6 L903.3,74.6 L905.3,74.6 L907.4,74.6 L909.4,74.7 L911.5,74.7 L913.5,74.7 L915.6,74.7 L917.7,74.7 L919.7,74.7 L921.8,74.7 L923.9,74.7 L926.0,74.7 L928.0,74.8 L930.1,74.8 L932.2,74.8 L934.3,74.8 L936.4,74.8 L938.5,74.8 L940.6,74.8 L942.7,74.8 L944.7,74.8 L946.8,74.8 L948.9,74.9 L951.0,74.9 L953.1,74.9 L955.2,74.9 L957.3,74.9 L959.4,74.9 L961.5,74.9 L963.6,74.9 L965.7,75.0 L967.8,75.0 L969.9,75.0 L972.0,75.0 L974.1,75.0 L976.2,75.0 L978.3,75.0 L980.4,75.0 L982.5,75.0 L984.6,75.1 L986.7,75.1 L988.8,75.1 L990.9,75.1 L993.0,75.1 L995.1,75.1 L997.2,75.1 L999.3,75.1 L1001.3,75.1 L1003.4,75.2 L1005.5,75.2 L1007.6,75.2 L1009.6,75.2 L1011.7,75.2 L1013.8,75.2 L1015.8,75.2 L1017.9,75.2 L1020.0,75.3 L1022.0,75.3 L1024.1,75.3 L1026.1,75.3 L1028.2,75.3 L1030.2,75.3 L1032.2,75.3 L1034.3,75.3 L1036.3,75.4 L1038.3,75.4 L1040.3,75.4 L1042.4,75.4 L1044.4,75.4 L1046.4,75.4 L1048.4,75.4 L1050.4,75.4 L1052.3,75.5 L1054.3,75.5 L1056.3,75.5 L1058.3,75.5 L1060.2,75.5 L1062.2,75.5 L1064.2,75.5 L1066.1,75.6 L1068.0,75.6 L1070.0,75.6 L1071.9,75.6 L1073.8,75.6 L1075.8,75.6 L1077.7,75.6 L1079.6,75.6 L1081.5,75.7 L1083.3,75.7 L1085.2,75.7 L1087.1,75.7 L1089.0,75.7 L1090.8,75.7 L1092.7,75.7 L1094.5,75.8 L1096.5,75.8 L1098.4,75.8 L1100.4,75.8 L1102.4,75.8 L1104.5,75.8 L1106.6,75.9 L1108.7,75.9 L1110.9,75.9 L1113.0,75.9 L1115.2,75.9 L1117.3,75.9 L1119.5,76.0 L1121.6,76.0 L1123.7,76.0 L1125.8,76.0 L1128.0,76.0 L1130.1,76.0 L1132.2,76.1 L1134.2,76.1 L1136.3,76.1 L1138.4,76.1 L1140.5,76.1 L1142.6,76.1 L1144.6,76.2 L1146.7,76.2 L1148.7,76.2 L1150.8,76.2 L1152.8,76.2 L1154.9,76.2 L1156.9,76.3 L1158.9,76.3 L1160.9,76.3 L1163.0,76.3 L1165.0,76.3 L1167.0,76.3 L1169.0,76.4 L1171.0,76.4 L1173.0,76.4 L1175.0,76.4 L1177.0,76.4 L1179.0,76.4 L1181.0,76.5 L1182.9,76.5 L1184.9,76.5 L1186.9,76.5 L1188.9,76.5 L1190.9,76.5 L1192.8,76.6 L1194.8,76.6 L1196.8,76.6 L1198.7,76.6 L1200.7,76.6 L1202.6,76.7 L1204.6,76.7 L1206.6,76.7 L1208.5,76.7 L1210.5,76.7 L1212.4,76.8 L1214.4,76.8 L1216.3,76.8 L1218.3,76.8 L1220.2,76.8 L1222.2,76.9 L1224.1,76.9 L1226.1,76.9 L1228.0,76.9 L1230.0,76.9 L1231.9,77.0 L1233.9,77.0 L1235.8,77.0 L1237.8,77.0 L1239.7,77.0 L1241.7,77.1 L1243.6,77.1 L1245.6,77.1 L1247.5,77.1 L1249.5,77.2 L1251.4,77.2 L1253.4,77.2 L1255.3,77.2 L1257.3,77.3 L1259.3,77.3 L1261.2,77.3 L1263.2,77.3 L1265.2,77.4 L1267.1,77.4 L1269.1,77.4 L1271.1,77.4 L1273.1,77.5 L1275.0,77.5 L1277.0,77.5 L1279.0,77.6 L1281.0,77.6 L1283.0,77.6 L1285.0,77.6 L1287.0,77.7 L1289.0,77.7 L1291.0,77.7 L1293.0,77.8 L1295.0,77.8 L1297.0,77.8 L1299.0,77.9 L1301.0,77.9 L1303.0,77.9 L1305.0,78.0 L1307.0,78.0 L1309.0,78.0 L1311.0,78.1 L1313.0,78.1 L1315.0,78.1 L1317.0,78.2 L1319.0,78.2 L1321.0,78.2 L1323.0,78.3 L1325.0,78.3 L1327.0,78.3 L1329.0,78.4 L1331.0,78.4 L1333.0,78.5 L1335.0,78.5 L1337.0,78.5 L1339.0,78.6 L1341.0,78.6 L1343.0,78.7 L1345.0,78.7 L1347.0,78.7 L1349.0,78.8 L1351.0,78.8 L1353.0,78.9 L1355.0,78.9 L1357.0,78.9 L1359.0,79.0 L1361.0,79.0 L1363.0,79.1 L1365.0,79.1 L1367.0,79.1 L1369.0,79.2 L1371.0,79.2 L1373.0,79.3 L1375.0,79.3 L1377.0,79.4 L1379.0,79.4 L1381.0,79.4 L1383.0,79.5 L1385.0,79.5 L1387.0,79.6 L1389.0,79.6 L1391.0,79.7 L1393.0,79.7 L1395.0,79.7 L1397.0,79.8 L1399.0,79.8 L1401.0,79.9 L1403.0,79.9 L1405.0,80.0 L1407.0,80.0 L1409.0,80.0 L1411.0,80.1 L1413.0,80.1 L1415.0,80.2 L1417.0,80.2 L1419.0,80.3 L1421.0,80.3 L1423.0,80.4 L1425.0,80.4 L1427.0,80.4 L1429.0,80.5 L1431.0,80.5 L1433.0,80.6 L1435.0,80.6 L1437.0,80.7 L1439.0,80.7 L1441.0,80.7 L1443.0,80.8 L1445.0,80.8 L1447.0,80.9 L1449.0,80.9 L1451.0,81.0 L1453.0,81.0 L1455.0,81.0 L1457.0,81.1 L1459.0,81.1 L1461.0,81.2 L1463.0,81.2 L1465.0,81.3 L1467.0,81.3 L1469.0,81.3 L1471.0,81.4 L1473.0,81.4 L1475.0,81.5 L1477.0,81.5 L1479.0,81.5 L1481.0,81.6 L1483.1,81.6 L1485.1,81.7 L1487.1,81.7 L1489.1,81.7 L1491.2,81.8 L1493.2,81.8 L1495.2,81.9 L1497.3,81.9 L1499.3,81.9 L1501.3,82.0 L1503.4,82.0 L1505.4,82.1 L1507.5,82.1 L1509.5,82.1 L1511.6,82.2 L1513.6,82.2 L1515.7,82.2 L1517.8,82.3 L1519.8,82.3 L1521.9,82.4 L1523.9,82.4 L1526.0,82.4 L1528.1,82.5 L1530.1,82.5 L1532.2,82.6 L1534.3,82.6 L1536.3,82.6 L1538.4,82.7 L1540.5,82.7 L1542.5,82.7 L1544.6,82.8 L1546.7,82.8 L1548.7,82.9 L1550.8,82.9 L1552.9,82.9 L1554.9,83.0 L1557.0,83.0 L1559.1,83.1 L1561.1,83.1 L1563.2,83.1 L1565.3,83.2 L1567.3,83.2 L1569.4,83.2 L1571.4,83.3 L1573.5,83.3 L1575.5,83.4 L1577.6,83.4 L1579.6,83.4 L1581.7,83.5 L1583.7,83.5 L1585.8,83.6 L1587.8,83.6 L1589.9,83.6 L1591.9,83.7 L1593.9,83.7 L1595.9,83.8 L1598.0,83.8 L1600.0,83.8 L1602.0,83.9 L1604.0,83.9 L1606.0,84.0 L1608.1,84.0 L1610.1,84.0 L1612.1,84.1 L1614.1,84.1 L1616.0,84.2 L1618.0,84.2 L1620.0,84.2 L1622.0,84.3 L1624.0,84.3 L1625.9,84.4 L1627.9,84.4 L1629.9,84.4 L1631.8,84.5 L1633.8,84.5 L1635.7,84.6 L1637.6,84.6 L1639.6,84.7 L1641.5,84.7 L1643.4,84.8 L1645.3,84.8 L1647.2,84.8 L1649.2,84.9 L1651.0,84.9 L1652.9,85.0 L1654.8,85.0 L1656.7,85.1 L1658.6,85.1 L1660.5,85.2 L1662.4,85.2 L1664.4,85.3 L1666.4,85.3 L1668.4,85.4 L1670.4,85.4 L1672.5,85.5 L1674.6,85.5 L1676.8,85.6 L1678.9,85.6 L1681.1,85.7 L1683.2,85.8 L1685.4,85.8 L1687.5,85.9 L1689.6,85.9 L1691.7,86.0 L1693.9,86.1 L1696.0,86.1 L1698.1,86.2 L1700.2,86.2 L1702.3,86.3 L1704.4,86.4 L1706.5,86.4 L1708.6,86.5 L1710.6,86.6 L1712.7,86.6 L1714.8,86.7 L1716.8,86.7 L1718.9,86.8 L1720.9,86.9 L1723.0,86.9 L1725.0,87.0 L1727.1,87.1 L1729.1,87.1 L1731.1,87.2 L1733.2,87.3 L1735.2,87.3 L1737.2,87.4 L1739.2,87.4 L1741.2,87.5 L1743.2,87.6 L1745.2,87.6 L1747.1,87.7 L1749.1,87.8 L1751.1,87.8 L1753.0,87.9 L1755.0,88.0 L1756.9,88.0 L1758.9,88.1 L1760.8,88.2 L1762.8,88.2 L1764.7,88.3 L1766.6,88.4 L1768.5,88.4 L1770.4,88.5 L1772.3,88.6 L1774.2,88.6 L1776.1,88.7 L1778.0,88.7 L1779.8,88.8 L1781.7,88.9 L1783.6,88.9 L1785.4,89.0 L1787.3,89.1 L1789.1,89.1 L1790.9,89.2 L1792.8,89.3 L1794.6,89.3 L1796.5,89.4 L1798.5,89.4 L1800.4,89.5 L1802.4,89.6 L1804.5,89.7 L1806.5,89.7 L1808.6,89.8 L1810.8,89.9 L1812.9,90.0 L1815.0,90.0 L1817.1,90.1 L1819.1,90.2 L1821.2,90.3 L1823.3,90.3 L1825.3,90.4 L1827.3,90.5 L1829.3,90.6 L1831.3,90.6 L1833.3,90.7 L1835.3,90.8 L1837.3,90.9 L1839.3,90.9 L1841.2,91.0 L1843.2,91.1 L1845.1,91.2 L1847.1,91.2 L1849.0,91.3 L1851.0,91.4 L1852.9,91.5 L1854.8,91.5 L1856.8,91.6 L1858.7,91.7 L1860.6,91.8 L1862.6,91.8 L1864.5,91.9 L1866.4,92.0 L1868.4,92.1 L1870.3,92.1 L1872.3,92.2 L1874.2,92.3 L1876.2,92.4 L1878.1,92.4 L1880.1,92.5 L1882.1,92.6 L1884.0,92.7 L1886.0,92.7 L1888.0,92.8" fill="none" stroke="#000" stroke-width="10" stroke-linejoin="round" stroke-linecap="butt"/>
<path d="M333.0,81.5 L335.1,81.8 L337.1,82.1 L339.2,82.4 L341.3,82.7 L343.4,83.1 L345.4,83.4 L347.5,83.7 L349.6,84.0 L351.6,84.3 L353.7,84.6 L355.8,84.9 L357.9,85.2 L359.9,85.6 L362.0,85.9 L364.1,86.2 L366.2,86.5 L368.3,86.8 L370.3,87.2 L372.4,87.5 L374.4,87.8 L376.4,88.2 L378.4,88.5 L380.4,88.8 L382.4,89.2 L384.4,89.5 L386.3,89.9 L388.3,90.2 L390.3,90.6 L392.3,90.9 L394.3,91.2 L396.3,91.6 L398.3,91.9 L400.4,92.3 L402.4,92.6 L404.5,92.9 L406.6,93.3 L408.6,93.6 L410.7,93.9 L412.7,94.2 L414.7,94.4 L416.8,94.7 L418.8,94.9 L420.8,95.2 L422.7,95.4 L424.7,95.6 L426.7,95.8 L428.7,96.0 L430.7,96.2 L432.7,96.4 L434.8,96.6 L436.8,96.8 L438.9,97.0 L440.9,97.2 L443.0,97.4 L445.1,97.6 L447.2,97.8 L449.2,97.9 L451.3,98.1 L453.4,98.3 L455.4,98.5 L457.5,98.7 L459.5,98.8 L461.5,99.0 L463.5,99.2 L465.6,99.4 L467.6,99.6 L469.6,99.8 L471.6,100.0 L473.7,100.3 L475.7,100.5 L477.8,100.7 L479.8,100.9 L481.9,101.2 L484.0,101.4 L486.0,101.7 L488.1,101.9 L490.1,102.2 L492.2,102.4 L494.2,102.7 L496.2,102.9 L498.3,103.1 L500.3,103.4 L502.3,103.6 L504.3,103.8 L506.3,104.1 L508.3,104.3 L510.2,104.5 L512.2,104.7 L514.2,104.9 L516.2,105.1 L518.1,105.3 L520.1,105.5 L522.1,105.6 L524.2,105.8 L526.2,105.9 L528.2,106.1 L530.2,106.2 L532.2,106.3 L534.3,106.4 L536.3,106.5 L538.2,106.6 L540.2,106.7 L542.2,106.8 L544.2,106.9 L546.2,107.0 L548.1,107.1 L550.1,107.2 L552.1,107.4 L554.1,107.5 L556.0,107.7 L558.0,107.9 L560.0,108.0 L562.0,108.2 L564.0,108.5 L566.0,108.7 L568.0,108.9 L570.0,109.2 L572.0,109.4 L574.0,109.7 L576.0,109.9 L578.0,110.2 L580.0,110.5 L582.0,110.8 L584.0,111.1 L586.0,111.4 L588.0,111.8 L590.0,112.1 L592.0,112.4 L594.0,112.8 L596.0,113.2 L598.0,113.6 L600.1,113.9 L602.1,114.4 L604.2,114.8 L606.2,115.2 L608.3,115.7 L610.4,116.1 L612.5,116.6 L614.6,117.1 L616.7,117.6 L618.8,118.1 L620.9,118.6 L622.9,119.1 L625.0,119.6 L627.0,120.2 L628.9,120.7 L630.9,121.3 L632.8,121.8 L634.7,122.4 L636.6,123.0 L638.6,123.6 L640.5,124.3 L642.5,125.0 L644.4,125.7 L646.4,126.5 L648.4,127.3 L650.4,128.1 L652.3,129.0 L654.3,129.9 L656.2,130.7 L658.0,131.6 L659.9,132.5 L661.8,133.3 L663.6,134.2 L665.5,135.1 L667.3,136.0 L669.1,136.9 L670.9,137.8 L672.8,138.7 L674.6,139.6 L676.4,140.6 L678.2,141.6 L680.0,142.6 L681.8,143.6 L683.5,144.7 L685.3,145.7 L687.1,146.8 L688.9,147.9 L690.7,149.1 L692.5,150.2 L694.3,151.4 L696.1,152.5 L697.9,153.6 L699.6,154.7 L701.4,155.8 L703.2,156.9 L704.9,158.0 L706.7,159.1 L708.4,160.2 L710.1,161.2 L711.9,162.3 L713.7,163.4 L715.5,164.5 L717.3,165.6 L719.2,166.8 L721.0,167.9 L722.9,169.0 L724.8,170.1 L726.6,171.2 L728.5,172.3 L730.3,173.3 L732.1,174.4 L734.0,175.4 L735.8,176.5 L737.6,177.5 L739.4,178.5 L741.2,179.5 L743.0,180.5 L744.8,181.5 L746.7,182.5 L748.5,183.5 L750.3,184.5 L752.1,185.4 L753.9,186.4 L755.7,187.4 L757.6,188.3 L759.4,189.3 L761.2,190.2 L763.0,191.2 L764.8,192.1 L766.7,193.0 L768.5,194.0 L770.3,194.9 L772.1,195.8 L773.9,196.7 L775.7,197.5 L777.5,198.4 L779.3,199.3 L781.1,200.1 L782.9,201.0 L784.8,201.8 L786.6,202.7 L788.4,203.6 L790.2,204.4 L792.0,205.3 L793.8,206.1 L795.6,207.0 L797.4,207.9 L799.2,208.7 L801.0,209.6 L802.8,210.5 L804.6,211.4 L806.4,212.4 L808.2,213.3 L810.0,214.2 L811.8,215.2 L813.6,216.1 L815.4,217.1 L817.1,218.0 L818.9,219.0 L820.7,219.9 L822.5,220.9 L824.3,221.9 L826.1,222.8 L827.9,223.8 L829.7,224.7 L831.5,225.7 L833.3,226.6 L835.2,227.5 L837.0,228.5 L838.8,229.4 L840.6,230.3 L842.5,231.3 L844.3,232.2 L846.2,233.1 L848.0,234.0 L849.9,235.0 L851.7,235.9 L853.6,236.8 L855.4,237.7 L857.3,238.6 L859.2,239.5 L861.0,240.4 L862.9,241.3 L864.7,242.1 L866.6,243.0 L868.5,243.8 L870.3,244.7 L872.2,245.5 L874.1,246.3 L876.0,247.1 L877.9,247.8 L879.8,248.6 L881.7,249.4 L883.6,250.1 L885.5,250.8 L887.4,251.5 L889.4,252.2 L891.3,252.9 L893.2,253.6 L895.1,254.3 L897.0,255.0 L898.9,255.6 L900.8,256.3 L902.8,257.0 L904.7,257.7 L906.6,258.3 L908.5,259.0 L910.5,259.7 L912.4,260.4 L914.4,261.1 L916.4,261.8 L918.4,262.5 L920.4,263.2 L922.4,263.9 L924.3,264.6 L926.3,265.3 L928.3,266.0 L930.2,266.7 L932.1,267.3 L934.0,268.0 L935.8,268.6 L937.6,269.2 L939.5,269.9 L941.4,270.5 L943.2,271.1 L945.1,271.7 L947.0,272.3 L948.9,272.9 L950.7,273.5 L952.7,274.1 L954.5,274.7 L956.4,275.3 L958.3,276.0 L960.1,276.7 L962.0,277.4 L963.8,278.1 L965.7,278.9 L967.6,279.7 L969.4,280.5 L971.3,281.3 L973.2,282.2 L975.1,283.1 L977.0,284.0 L978.9,284.9 L980.8,285.9 L982.7,286.9 L984.5,287.9 L986.4,289.0 L988.2,290.2 L990.0,291.4 L991.8,292.7 L993.5,294.0 L995.1,295.5 L996.7,297.0 L998.3,298.6 L999.8,300.2 L1001.3,301.9 L1002.7,303.7 L1004.0,305.4 L1005.3,307.2 L1006.6,309.0 L1007.8,310.7 L1009.0,312.5 L1010.2,314.3 L1011.4,316.0 L1012.5,317.7 L1013.7,319.4 L1014.8,321.1 L1015.9,322.9 L1017.0,324.6 L1018.2,326.3 L1019.3,328.1 L1020.4,329.8 L1021.5,331.6 L1022.6,333.3 L1023.7,335.1 L1024.8,336.9 L1025.8,338.7 L1026.9,340.5 L1027.9,342.3 L1028.8,344.0 L1029.8,345.8 L1030.7,347.6 L1031.6,349.4 L1032.5,351.2 L1033.4,353.0 L1034.3,354.9 L1035.1,356.7 L1036.0,358.6 L1036.9,360.5 L1037.7,362.4 L1038.5,364.4 L1039.4,366.3 L1040.2,368.3 L1041.1,370.2 L1041.9,372.2 L1042.8,374.1 L1043.7,376.1 L1044.6,378.0 L1045.5,379.9 L1046.4,381.8 L1047.3,383.6 L1048.3,385.5 L1049.3,387.4 L1050.3,389.3 L1051.3,391.1 L1052.4,392.9 L1053.4,394.7 L1054.5,396.5 L1055.6,398.3 L1056.7,400.1 L1057.8,401.8 L1058.9,403.6 L1060.0,405.3 L1061.2,407.1 L1062.4,408.9 L1063.6,410.7 L1064.8,412.6 L1066.0,414.4 L1067.2,416.2 L1068.4,418.0 L1069.6,419.7 L1070.8,421.5 L1071.9,423.3 L1073.1,425.0 L1074.2,426.7 L1075.3,428.5 L1076.5,430.2 L1077.6,432.0 L1078.8,433.7 L1079.9,435.5 L1081.1,437.3 L1082.3,439.0 L1083.4,440.7 L1084.6,442.4 L1085.7,444.0 L1086.9,445.6 L1088.0,447.2 L1089.3,448.8 L1090.5,450.4 L1091.8,452.0 L1093.1,453.6 L1094.5,455.2 L1095.9,456.8 L1097.4,458.4 L1098.9,460.0 L1100.4,461.5 L1101.9,463.0 L1103.4,464.4 L1104.9,465.9 L1106.5,467.3 L1108.0,468.6 L1109.5,470.0 L1111.1,471.3 L1112.7,472.6 L1114.3,473.9 L1115.9,475.2 L1117.6,476.4 L1119.2,477.6 L1120.8,478.8 L1122.5,480.0 L1124.2,481.1 L1125.9,482.3 L1127.6,483.4 L1129.3,484.5 L1131.0,485.5 L1132.8,486.6 L1134.6,487.7 L1136.4,488.7 L1138.3,489.7 L1140.2,490.7 L1142.1,491.6 L1144.0,492.4 L1145.9,493.3 L1147.9,494.0 L1149.9,494.8 L1151.9,495.5 L1153.9,496.1 L1156.0,496.7 L1158.1,497.3 L1160.3,497.9 L1162.4,498.5 L1164.6,499.0 L1166.7,499.5 L1168.8,500.0 L1170.9,500.5 L1172.9,500.9 L1174.8,501.3 L1176.6,501.7 L1178.4,502.1 L1180.2,502.4 L1182.1,502.8 L1183.9,503.1 L1185.6,503.4 L1187.3,503.7 L1189.1,503.9 L1190.9,504.2 L1192.7,504.5 L1194.5,504.7 L1196.3,505.0 L1198.0,505.2 L1199.9,505.4 L1201.8,505.7 L1203.9,506.0 L1205.9,506.2 L1208.1,506.5 L1210.3,506.8 L1212.5,507.1 L1214.7,507.4 L1216.9,507.7 L1219.2,507.9 L1221.4,508.2 L1223.5,508.5 L1225.7,508.8 L1227.8,509.0 L1229.9,509.3 L1231.9,509.5 L1234.0,509.8 L1236.0,510.0 L1238.0,510.3 L1240.0,510.5 L1242.0,510.8 L1244.0,511.0 L1246.0,511.2 L1248.0,511.5 L1250.0,511.7 L1252.0,511.9 L1254.0,512.2 L1256.0,512.4 L1258.0,512.6 L1260.0,512.9 L1262.0,513.1 L1264.0,513.3 L1266.0,513.5 L1268.0,513.8 L1270.0,514.0 L1272.0,514.2 L1274.0,514.4 L1276.0,514.7 L1278.0,514.9 L1280.0,515.1 L1282.0,515.3 L1284.0,515.5 L1286.0,515.8 L1288.0,516.0 L1290.0,516.2 L1292.0,516.4 L1294.0,516.6 L1296.0,516.8 L1298.0,517.0 L1300.0,517.3 L1302.0,517.5 L1304.0,517.7 L1306.0,517.9 L1308.0,518.1 L1310.0,518.3 L1312.0,518.5 L1314.0,518.7 L1316.0,518.9 L1318.0,519.1 L1320.0,519.3 L1322.0,519.5 L1324.0,519.7 L1326.0,519.9 L1328.0,520.1 L1330.0,520.3 L1332.0,520.5 L1334.0,520.7 L1336.0,520.9 L1338.0,521.1 L1340.0,521.3 L1342.0,521.5 L1344.0,521.7 L1346.0,521.9 L1348.0,522.1 L1350.0,522.3 L1352.0,522.5 L1354.0,522.7 L1356.0,522.9 L1358.0,523.1 L1360.0,523.3 L1362.0,523.5 L1364.0,523.7 L1366.0,523.9 L1368.0,524.1 L1370.0,524.3 L1372.0,524.5 L1374.0,524.6 L1376.0,524.8 L1378.0,525.0 L1380.0,525.2 L1382.0,525.4 L1384.0,525.6 L1386.0,525.8 L1388.0,526.0 L1390.0,526.2 L1392.0,526.4 L1394.0,526.6 L1396.0,526.8 L1398.0,527.0 L1400.0,527.2 L1402.0,527.4 L1404.0,527.6 L1406.0,527.8 L1408.0,527.9 L1410.0,528.1 L1412.0,528.3 L1414.0,528.5 L1416.0,528.7 L1418.0,528.9 L1420.0,529.1 L1422.0,529.3 L1424.0,529.5 L1426.0,529.7 L1428.0,529.9 L1430.0,530.1 L1432.0,530.3 L1434.0,530.5 L1436.0,530.7 L1438.0,530.9 L1440.0,531.1 L1442.0,531.3 L1444.0,531.5 L1446.0,531.7 L1448.0,531.9 L1450.0,532.1 L1452.0,532.3 L1454.0,532.5 L1456.0,532.7 L1458.0,532.9 L1460.0,533.1 L1462.0,533.3 L1464.0,533.5 L1466.0,533.7 L1468.0,533.9 L1470.0,534.1 L1472.0,534.3 L1474.0,534.5 L1476.0,534.7 L1478.0,534.9 L1480.0,535.1 L1482.0,535.4 L1484.0,535.6 L1486.0,535.8 L1488.0,536.0 L1490.0,536.2 L1492.0,536.4 L1494.0,536.6 L1496.0,536.9 L1498.0,537.1 L1500.0,537.3 L1502.0,537.5 L1504.0,537.7 L1506.0,538.0 L1508.0,538.2 L1510.0,538.4 L1512.0,538.6 L1514.0,538.8 L1516.0,539.1 L1518.0,539.3 L1520.0,539.5 L1522.0,539.7 L1524.0,540.0 L1526.0,540.2 L1528.0,540.4 L1530.0,540.6 L1532.0,540.9 L1534.0,541.1 L1536.0,541.3 L1538.0,541.6 L1540.0,541.8 L1542.0,542.0 L1544.0,542.3 L1546.0,542.5 L1548.0,542.8 L1550.0,543.0 L1552.0,543.3 L1554.0,543.5 L1556.0,543.7 L1558.0,544.0 L1560.0,544.2 L1562.0,544.5 L1564.0,544.8 L1566.0,545.0 L1568.0,545.3 L1570.0,545.5 L1572.0,545.8 L1574.0,546.1 L1576.0,546.3 L1578.0,546.6 L1580.0,546.8 L1582.0,547.1 L1584.0,547.4 L1586.0,547.7 L1588.0,547.9 L1590.0,548.2 L1592.0,548.5 L1594.0,548.8 L1596.0,549.0 L1598.0,549.3 L1600.0,549.6 L1602.0,549.9 L1604.0,550.2 L1606.0,550.4 L1608.0,550.7 L1610.0,551.0 L1612.0,551.3 L1614.0,551.6 L1616.0,551.9 L1618.0,552.2 L1620.0,552.5 L1622.0,552.8 L1624.0,553.1 L1626.0,553.4 L1628.0,553.7 L1630.0,554.0 L1632.0,554.3 L1634.0,554.6 L1636.0,554.9 L1638.0,555.2 L1640.0,555.6 L1642.0,555.9 L1644.0,556.2 L1646.0,556.5 L1648.0,556.8 L1650.0,557.2 L1652.0,557.5 L1654.0,557.8 L1656.0,558.1 L1658.0,558.5 L1660.0,558.8 L1662.0,559.1 L1664.0,559.5 L1666.0,559.8 L1668.0,560.2 L1670.0,560.5 L1672.0,560.9 L1674.0,561.2 L1676.0,561.6 L1678.0,561.9 L1680.0,562.3 L1682.0,562.7 L1684.0,563.0 L1686.0,563.4 L1688.0,563.8 L1690.0,564.1 L1692.0,564.5 L1694.0,564.9 L1696.0,565.3 L1698.0,565.7 L1700.0,566.0 L1702.0,566.4 L1704.0,566.8 L1706.0,567.2 L1708.0,567.6 L1710.0,568.0 L1712.0,568.4 L1714.0,568.8 L1716.0,569.2 L1718.0,569.6 L1720.0,570.0 L1722.0,570.5 L1724.0,570.9 L1726.0,571.3 L1728.0,571.7 L1730.0,572.1 L1732.0,572.6 L1734.0,573.0 L1736.0,573.4 L1738.0,573.8 L1740.0,574.3 L1742.0,574.7 L1744.0,575.2 L1746.0,575.6 L1748.0,576.1 L1750.0,576.5 L1752.0,577.0 L1754.0,577.4 L1756.0,577.9 L1758.0,578.3 L1760.0,578.8 L1762.0,579.3 L1764.0,579.7 L1766.0,580.2 L1768.0,580.7 L1770.0,581.2 L1772.0,581.6 L1774.0,582.1 L1776.0,582.6 L1778.0,583.1 L1780.0,583.6 L1782.0,584.1 L1784.0,584.6 L1786.0,585.1 L1788.0,585.6 L1790.0,586.1 L1792.0,586.6 L1794.0,587.1 L1796.0,587.7 L1798.0,588.2 L1800.0,588.7 L1802.0,589.2 L1804.0,589.8 L1806.0,590.3 L1808.0,590.9 L1810.0,591.4 L1812.0,591.9 L1814.0,592.5 L1816.0,593.0 L1818.0,593.6 L1820.0,594.2 L1822.0,594.7 L1824.0,595.3 L1826.0,595.9 L1828.0,596.4 L1830.1,597.0 L1832.1,597.6 L1834.1,598.2 L1836.2,598.8 L1838.3,599.5 L1840.4,600.1 L1842.5,600.7 L1844.6,601.3 L1846.7,602.0 L1848.7,602.6 L1850.8,603.3 L1852.9,603.9 L1854.9,604.5 L1856.9,605.2 L1858.9,605.8 L1860.8,606.4 L1862.7,607.0 L1864.6,607.6 L1866.6,608.2 L1868.5,608.8 L1870.5,609.5 L1872.4,610.1 L1874.4,610.8 L1876.3,611.4 L1878.3,612.1 L1880.3,612.8 L1882.3,613.4 L1884.2,614.1 L1886.1,614.8 L1888.0,615.4 L1890.0,616.1" fill="none" stroke="#c80000" stroke-width="10" stroke-linejoin="round" stroke-linecap="butt"/>
<path d="M882,318V666" stroke="#000" stroke-width="11" fill="none"/>
<path d="M882,269L862,318H902Z" fill="#000"/>
<path d="M1001.5,386V602" stroke="#000" stroke-width="11" fill="none"/>
<path d="M1001.5,337L982.5,386H1020.5Z" fill="#000"/>
<path d="M1633.7,652.6V730" stroke="#000" stroke-width="11" fill="none"/>
<path d="M1633.7,605L1614.7,652.6H1652.7Z" fill="#000"/>
<path d="M1735.6,451.5V525" stroke="#000" stroke-width="11" fill="none"/>
<path d="M1735.6,573L1715.6,525H1755.6Z" fill="#000"/>
<path d="M308,15.3H1896 M1892,10.5V1098 M332.5,10.5V788.5 M332.5,857V1098 M287,1053H1896 M308.5,756.3H333 M308.5,727.8H333 M308.5,699.3H333 M308.5,670.9H333 M308.5,613.9H333 M308.5,585.5H333 M308.5,557.0H333 M308.5,528.5H333 M308.5,471.6H333 M308.5,443.1H333 M308.5,414.6H333 M308.5,386.2H333 M308.5,329.2H333 M308.5,300.8H333 M308.5,272.3H333 M308.5,243.8H333 M308.5,186.9H333 M308.5,158.4H333 M308.5,129.9H333 M308.5,101.5H333 M308.5,44.5H333 M287,642.4H333 M287,500.0H333 M287,357.7H333 M287,215.3H333 M287,73.0H333 M306.5,784.8H358 M306.5,862H358 M309,894.0H333 M309,926.0H333 M309,958.0H333 M309,1022.0H333 M287,990.0H333 M372.8,1053V1077 M413.8,1053V1077 M454.8,1053V1098 M495.8,1053V1077 M536.8,1053V1077 M577.8,1053V1077 M618.8,1053V1077 M659.8,1053V1098 M700.8,1053V1077 M741.8,1053V1077 M782.8,1053V1077 M823.8,1053V1077 M864.8,1053V1098 M905.8,1053V1077 M946.8,1053V1077 M987.8,1053V1077 M1028.8,1053V1077 M1069.8,1053V1098 M1110.8,1053V1077 M1151.8,1053V1077 M1192.8,1053V1077 M1233.8,1053V1077 M1274.8,1053V1098 M1315.8,1053V1077 M1356.8,1053V1077 M1397.8,1053V1077 M1438.8,1053V1077 M1479.8,1053V1098 M1520.8,1053V1077 M1561.8,1053V1077 M1602.8,1053V1077 M1643.8,1053V1077 M1684.8,1053V1098 M1725.8,1053V1077 M1766.8,1053V1077 M1807.8,1053V1077 M1848.8,1053V1077" fill="none" stroke="#000" stroke-width="10" stroke-linecap="butt"/>
<text x="142.5" y="104.5" font-family="Liberation Serif, serif" font-weight="normal" font-size="91" fill="#000" textLength="133.5" lengthAdjust="spacingAndGlyphs">100</text>
<text x="187.5" y="246.0" font-family="Liberation Serif, serif" font-weight="normal" font-size="91" fill="#000" textLength="88.0" lengthAdjust="spacingAndGlyphs">95</text>
<text x="188.8" y="390.1" font-family="Liberation Serif, serif" font-weight="normal" font-size="91" fill="#000" textLength="87.8" lengthAdjust="spacingAndGlyphs">90</text>
<text x="188.1" y="531.3" font-family="Liberation Serif, serif" font-weight="normal" font-size="91" fill="#000" textLength="88.7" lengthAdjust="spacingAndGlyphs">85</text>
<text x="188.1" y="673.1" font-family="Liberation Serif, serif" font-weight="normal" font-size="91" fill="#000" textLength="89.3" lengthAdjust="spacingAndGlyphs">80</text>
<text x="183.5" y="815.3" font-family="Liberation Serif, serif" font-weight="normal" font-size="91" fill="#000" textLength="92.5" lengthAdjust="spacingAndGlyphs">75</text>
<text x="187.5" y="893.5" font-family="Liberation Serif, serif" font-weight="normal" font-size="91" fill="#000" textLength="88.5" lengthAdjust="spacingAndGlyphs">40</text>
<text x="185.5" y="1021.0" font-family="Liberation Serif, serif" font-weight="normal" font-size="91" fill="#000" textLength="90.5" lengthAdjust="spacingAndGlyphs">20</text>
<text x="198.0" y="1086.2" font-family="Liberation Serif, serif" font-weight="normal" font-size="91" fill="#000" textLength="91.0" lengthAdjust="spacingAndGlyphs">10</text>
<text x="286.5" y="1190.0" font-family="Liberation Serif, serif" font-weight="normal" font-size="91" fill="#000" textLength="88.5" lengthAdjust="spacingAndGlyphs">40</text>
<text x="385.0" y="1202.0" font-family="Liberation Serif, serif" font-weight="normal" font-size="91" fill="#000" textLength="134.0" lengthAdjust="spacingAndGlyphs">100</text>
<text x="592.2" y="1202.0" font-family="Liberation Serif, serif" font-weight="normal" font-size="91" fill="#000" textLength="131.5" lengthAdjust="spacingAndGlyphs">200</text>
<text x="795.6" y="1202.0" font-family="Liberation Serif, serif" font-weight="normal" font-size="91" fill="#000" textLength="133.8" lengthAdjust="spacingAndGlyphs">300</text>
<text x="1002.0" y="1202.0" font-family="Liberation Serif, serif" font-weight="normal" font-size="91" fill="#000" textLength="132.8" lengthAdjust="spacingAndGlyphs">400</text>
<text x="1205.4" y="1202.0" font-family="Liberation Serif, serif" font-weight="normal" font-size="91" fill="#000" textLength="134.8" lengthAdjust="spacingAndGlyphs">500</text>
<text x="1413.6" y="1202.0" font-family="Liberation Serif, serif" font-weight="normal" font-size="91" fill="#000" textLength="130.2" lengthAdjust="spacingAndGlyphs">600</text>
<text x="1616.0" y="1202.0" font-family="Liberation Serif, serif" font-weight="normal" font-size="91" fill="#000" textLength="141.0" lengthAdjust="spacingAndGlyphs">700</text>
<text x="1824.0" y="1202.0" font-family="Liberation Serif, serif" font-weight="normal" font-size="91" fill="#000" textLength="130.0" lengthAdjust="spacingAndGlyphs">800</text>
<text x="1442.1" y="172.6" font-family="Liberation Serif, serif" font-weight="normal" font-size="77" fill="#000" textLength="298.8" lengthAdjust="spacingAndGlyphs">Graphite</text>
<text x="1103.9" y="278.4" font-family="Liberation Serif, serif" font-weight="normal" font-size="77" fill="#000" textLength="319.7" lengthAdjust="spacingAndGlyphs">RGO_180</text>
<text x="504.1" y="411.7" font-family="Liberation Serif, serif" font-weight="normal" font-size="77" fill="#000" textLength="152.1" lengthAdjust="spacingAndGlyphs">PDA</text>
<text x="1676.6" y="441.7" font-family="Liberation Serif, serif" font-weight="normal" font-size="77" fill="#000" textLength="114.1" lengthAdjust="spacingAndGlyphs">GO</text>
<text x="965.0" y="668.7" font-family="Liberation Serif, serif" font-weight="normal" font-size="77" fill="#000" textLength="405.8" lengthAdjust="spacingAndGlyphs">PDA-GO_90</text>
<text x="806.9" y="754.5" font-family="Liberation Serif, serif" font-weight="normal" font-size="77" fill="#000" textLength="445.9" lengthAdjust="spacingAndGlyphs">PDA-GO_180</text>
<text x="1424.0" y="799.1" font-family="Liberation Serif, serif" font-weight="normal" font-size="77" fill="#000" textLength="408.4" lengthAdjust="spacingAndGlyphs">PDA-GO_30</text>
<text x="1909.0" y="117.0" font-family="Liberation Serif, serif" font-weight="normal" font-size="75" fill="#111111" textLength="196.0" lengthAdjust="spacingAndGlyphs">99.3%</text>
<text x="1907.3" y="527.1" font-family="Liberation Serif, serif" font-weight="normal" font-size="75" fill="#ff6600" textLength="197.8" lengthAdjust="spacingAndGlyphs">83.4%</text>
<text x="1907.3" y="606.0" font-family="Liberation Serif, serif" font-weight="normal" font-size="75" fill="#c00000" textLength="197.8" lengthAdjust="spacingAndGlyphs">80.9%</text>
<text x="1905.3" y="678.0" font-family="Liberation Serif, serif" font-weight="normal" font-size="75" fill="#000099" textLength="199.8" lengthAdjust="spacingAndGlyphs">79.7%</text>
<text x="1904.3" y="752.8" font-family="Liberation Serif, serif" font-weight="normal" font-size="75" fill="#707070" textLength="200.8" lengthAdjust="spacingAndGlyphs">78.3%</text>
<text x="712.0" y="1364.0" font-family="Liberation Serif, serif" font-weight="bold" font-size="104" fill="#000" textLength="590.4" lengthAdjust="spacingAndGlyphs">Temperature</text>
<text x="1326.6" y="1360.5" font-family="Liberation Serif, serif" font-weight="bold" font-size="104" fill="#000" textLength="181.6" lengthAdjust="spacingAndGlyphs">[°C]</text>
<text transform="translate(95.5,610.5) rotate(-90)" x="-164.5" y="0" font-family="Liberation Serif, serif" font-weight="bold" font-size="104" fill="#000" textLength="329.0" lengthAdjust="spacingAndGlyphs">Weight</text>
<text transform="translate(95.0,346.4) rotate(-90)" x="-77.4" y="0" font-family="Liberation Serif, serif" font-weight="bold" font-size="104" fill="#000" textLength="154.8" lengthAdjust="spacingAndGlyphs">[%]</text>
</g>
</svg></body></html>
